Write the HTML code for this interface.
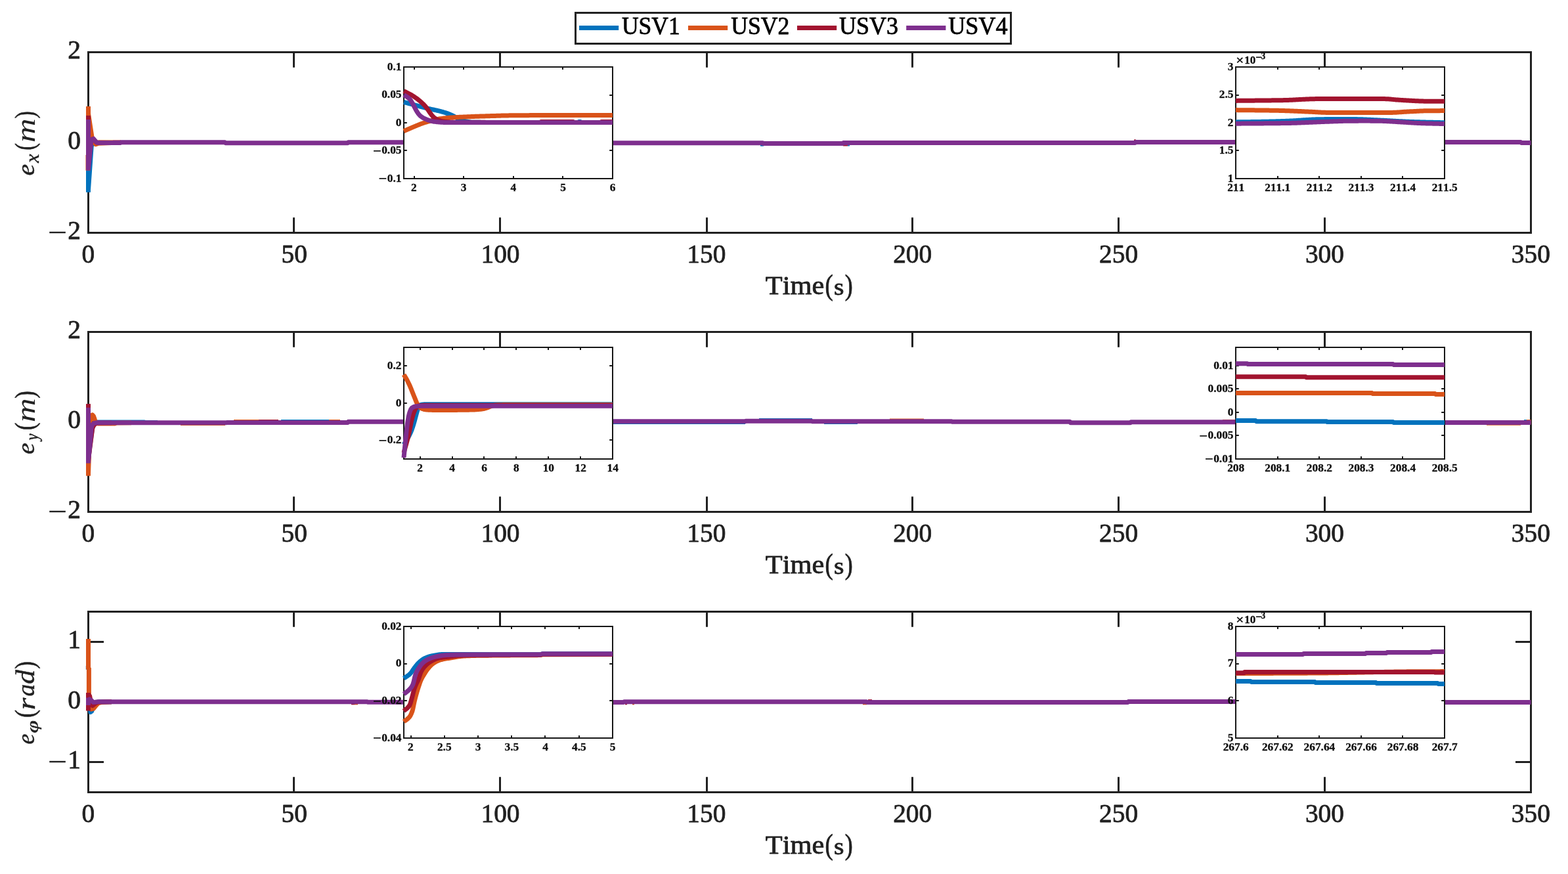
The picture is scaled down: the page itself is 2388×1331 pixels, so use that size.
<!DOCTYPE html>
<html lang="en"><head><meta charset="utf-8"><title>USV tracking errors</title>
<style>html,body{margin:0;padding:0;background:#fff}svg{display:block}text{font-family:"Liberation Serif","DejaVu Serif",serif;font-size:40px;text-anchor:start;font-kerning:none;font-variant-ligatures:none;white-space:pre}path{fill:none}</style></head><body>
<svg width="2388" height="1331" viewBox="0 0 2388 1331">
<rect width="2388" height="1331" fill="#fff"/>
<rect x="134.5" y="79.5" width="2197" height="275" fill="#fff" stroke="#212121" stroke-width="3"/>
<path d="M447.5,79.5V102.8M447.5,354.5V331.2M761.5,79.5V102.8M761.5,354.5V331.2M1076.5,79.5V102.8M1076.5,354.5V331.2M1389.5,79.5V102.8M1389.5,354.5V331.2M1703.5,79.5V102.8M1703.5,354.5V331.2M2017.5,79.5V102.8M2017.5,354.5V331.2M134.5,217H158M2331.5,217H2308" stroke="#212121" stroke-width="3" fill="none"/>
<g id="data1">
<path d="M134.5,217 L134.5,292.8" stroke="#0072BD" stroke-width="7" stroke-linejoin="round" stroke-linecap="butt"/>
<path d="M134.5,289 L139.3,221.5 L143.5,217.6 L150,217.6 L170,217.5" stroke="#0072BD" stroke-width="7" stroke-linejoin="round" stroke-linecap="butt"/>
<path d="M134.5,162 L134.5,259.3" stroke="#D95319" stroke-width="7" stroke-linejoin="round" stroke-linecap="butt"/>
<path d="M134,236 L134,259.5" stroke="#D95319" stroke-width="7" stroke-linejoin="round" stroke-linecap="butt"/>
<path d="M134.5,173 L139.8,207.5 L142.5,216 L145.8,219.8 L150,218.2 L170,217.5" stroke="#D95319" stroke-width="7" stroke-linejoin="round" stroke-linecap="butt"/>
<path d="M1158,219.2 L1163,219.2" stroke="#0072BD" stroke-width="7" stroke-linejoin="round" stroke-linecap="butt"/>
<path d="M1284,219 L1291,219" stroke="#A2142F" stroke-width="7" stroke-linejoin="round" stroke-linecap="butt"/>
<path d="M1291,219 L1294,219" stroke="#0072BD" stroke-width="7" stroke-linejoin="round" stroke-linecap="butt"/>
<path d="M1727,215.9 L1730,215.9" stroke="#A2142F" stroke-width="7" stroke-linejoin="round" stroke-linecap="butt"/>
<path d="M134.5,176 L134.5,252" stroke="#A2142F" stroke-width="7" stroke-linejoin="round" stroke-linecap="butt"/>
<path d="M134.5,250 L138.5,213 L142,211.5 L146.5,216.5 L150,217.3 L170,217.5" stroke="#A2142F" stroke-width="7" stroke-linejoin="round" stroke-linecap="butt"/>
<path d="M150,216.9 L172,216.9" stroke="#D95319" stroke-width="7" stroke-linejoin="round" stroke-linecap="butt"/>
<path d="M172,216.9 L184,216.9" stroke="#A2142F" stroke-width="7" stroke-linejoin="round" stroke-linecap="butt"/>
<path d="M134.5,182 L134.5,259.5" stroke="#7E2F8E" stroke-width="7" stroke-linejoin="round" stroke-linecap="butt"/>
<path d="M134.5,258 L138.7,216 L139.6,212.6 L142.3,211.4 L146.5,216.3 L149,217.5 L183.5,217.5 L184.5,216.8 L342.5,216.8 L343.5,217.7 L529.5,217.7 L530.5,216.7 L699.5,216.7 L700.5,217.3 L932.5,217.3 L933.5,217.7 L1161.5,217.7 L1162.5,218.6 L1283.5,218.6 L1284.5,217.6 L1728.5,217.6 L1729.5,216.5 L2316,216.5 L2317,217.4 L2331.5,217.4" stroke="#7E2F8E" stroke-width="7" stroke-linejoin="round" stroke-linecap="butt"/>
</g>
<text fill="#212121"><tspan x="124.45" y="399.6" font-size="40.4" textLength="19.7" lengthAdjust="spacingAndGlyphs" stroke="#212121" stroke-width="0.8" stroke-linejoin="round">0</tspan></text>
<text fill="#212121"><tspan x="428.46" y="399.6" font-size="40.4" textLength="39.4" lengthAdjust="spacingAndGlyphs" stroke="#212121" stroke-width="0.8" stroke-linejoin="round">50</tspan></text>
<text fill="#212121"><tspan x="732.46" y="399.6" font-size="40.4" textLength="59.1" lengthAdjust="spacingAndGlyphs" stroke="#212121" stroke-width="0.8" stroke-linejoin="round">100</tspan></text>
<text fill="#212121"><tspan x="1046.32" y="399.6" font-size="40.4" textLength="59.1" lengthAdjust="spacingAndGlyphs" stroke="#212121" stroke-width="0.8" stroke-linejoin="round">150</tspan></text>
<text fill="#212121"><tspan x="1360.18" y="399.6" font-size="40.4" textLength="59.1" lengthAdjust="spacingAndGlyphs" stroke="#212121" stroke-width="0.8" stroke-linejoin="round">200</tspan></text>
<text fill="#212121"><tspan x="1674.04" y="399.6" font-size="40.4" textLength="59.1" lengthAdjust="spacingAndGlyphs" stroke="#212121" stroke-width="0.8" stroke-linejoin="round">250</tspan></text>
<text fill="#212121"><tspan x="1987.89" y="399.6" font-size="40.4" textLength="59.1" lengthAdjust="spacingAndGlyphs" stroke="#212121" stroke-width="0.8" stroke-linejoin="round">300</tspan></text>
<text fill="#212121"><tspan x="2301.75" y="399.6" font-size="40.4" textLength="59.1" lengthAdjust="spacingAndGlyphs" stroke="#212121" stroke-width="0.8" stroke-linejoin="round">350</tspan></text>
<text fill="#212121"><tspan x="1165.83" y="448.42" font-size="39.1442" textLength="89.54" lengthAdjust="spacingAndGlyphs" stroke="#212121" stroke-width="0.8" stroke-linejoin="round">Time</tspan><tspan x="1256.49" y="449.08" font-size="43.7833" textLength="12.19" lengthAdjust="spacingAndGlyphs" stroke="#212121" stroke-width="0.8" stroke-linejoin="round">(</tspan><tspan x="1270.07" y="448.55" font-size="36.1779" textLength="15.47" lengthAdjust="spacingAndGlyphs" stroke="#212121" stroke-width="0.8" stroke-linejoin="round">s</tspan><tspan x="1286.85" y="449.08" font-size="43.7833" textLength="11.93" lengthAdjust="spacingAndGlyphs" stroke="#212121" stroke-width="0.8" stroke-linejoin="round">)</tspan></text>
<text fill="#212121"><tspan x="103.3" y="89.3" font-size="40" textLength="19.7" lengthAdjust="spacingAndGlyphs" stroke="#212121" stroke-width="0.8" stroke-linejoin="round">2</tspan></text>
<text fill="#212121"><tspan x="103.3" y="226.8" font-size="40" textLength="19.7" lengthAdjust="spacingAndGlyphs" stroke="#212121" stroke-width="0.8" stroke-linejoin="round">0</tspan></text>
<text fill="#212121"><tspan x="72.57" y="369.95" font-size="48.1882" textLength="29.81" lengthAdjust="spacingAndGlyphs">−</tspan><tspan x="103.3" y="364.3" font-size="40" textLength="19.7" lengthAdjust="spacingAndGlyphs" stroke="#212121" stroke-width="0.8" stroke-linejoin="round">2</tspan></text>
<text fill="#212121" transform="rotate(-90)"><tspan x="-267.61" y="52.01" font-size="37.3214" textLength="17.78" lengthAdjust="spacingAndGlyphs" font-style="italic" stroke="#212121" stroke-width="0.45" stroke-linejoin="round">e</tspan><tspan x="-247.9" y="58.68" font-size="28.6502" textLength="13.5" lengthAdjust="spacingAndGlyphs" font-style="italic" stroke="#212121" stroke-width="0.45" stroke-linejoin="round">x</tspan><tspan x="-228.64" y="52.29" font-size="42.7907" textLength="10.89" lengthAdjust="spacingAndGlyphs" stroke="#212121" stroke-width="0.6" stroke-linejoin="round">(</tspan><tspan x="-217.13" y="52.6" font-size="39.0499" textLength="36.55" lengthAdjust="spacingAndGlyphs" font-style="italic">m</tspan><tspan x="-180.27" y="52.29" font-size="42.7907" textLength="11.02" lengthAdjust="spacingAndGlyphs" stroke="#212121" stroke-width="0.6" stroke-linejoin="round">)</tspan></text>
<rect x="134.5" y="505.5" width="2197" height="274" fill="#fff" stroke="#212121" stroke-width="3"/>
<path d="M447.5,505.5V528.8M447.5,779.5V756.2M761.5,505.5V528.8M761.5,779.5V756.2M1076.5,505.5V528.8M1076.5,779.5V756.2M1389.5,505.5V528.8M1389.5,779.5V756.2M1703.5,505.5V528.8M1703.5,779.5V756.2M2017.5,505.5V528.8M2017.5,779.5V756.2M134.5,642.5H158M2331.5,642.5H2308" stroke="#212121" stroke-width="3" fill="none"/>
<g id="data2">
<path d="M134.5,642 L134.5,700" stroke="#0072BD" stroke-width="7" stroke-linejoin="round" stroke-linecap="butt"/>
<path d="M134.5,698 L140.6,652 L144.5,644 L148,643 L220,643 L222,643.6 L240,643.6" stroke="#0072BD" stroke-width="7" stroke-linejoin="round" stroke-linecap="butt"/>
<path d="M934,642.6 L1135,642.6" stroke="#0072BD" stroke-width="7" stroke-linejoin="round" stroke-linecap="butt"/>
<path d="M1156,640.4 L1237,640.4" stroke="#0072BD" stroke-width="7" stroke-linejoin="round" stroke-linecap="butt"/>
<path d="M1255,642.6 L1306,642.6" stroke="#0072BD" stroke-width="7" stroke-linejoin="round" stroke-linecap="butt"/>
<path d="M1355,641 L1407,641" stroke="#D95319" stroke-width="7" stroke-linejoin="round" stroke-linecap="butt"/>
<path d="M356,642.5 L394,642.5" stroke="#D95319" stroke-width="7" stroke-linejoin="round" stroke-linecap="butt"/>
<path d="M394,642.5 L424,642.5" stroke="#A2142F" stroke-width="7" stroke-linejoin="round" stroke-linecap="butt"/>
<path d="M428,642.5 L501,642.5" stroke="#0072BD" stroke-width="7" stroke-linejoin="round" stroke-linecap="butt"/>
<path d="M501,642.5 L518,642.5" stroke="#D95319" stroke-width="7" stroke-linejoin="round" stroke-linecap="butt"/>
<path d="M1862,642.4 L1882,642.4" stroke="#D95319" stroke-width="7" stroke-linejoin="round" stroke-linecap="butt"/>
<path d="M2264,644.3 L2316,644.3" stroke="#D95319" stroke-width="7" stroke-linejoin="round" stroke-linecap="butt"/>
<path d="M2321,642.6 L2325,642.6" stroke="#0072BD" stroke-width="7" stroke-linejoin="round" stroke-linecap="butt"/>
<path d="M2325,642.6 L2331.5,642.6" stroke="#D95319" stroke-width="7" stroke-linejoin="round" stroke-linecap="butt"/>
<path d="M933,642.3 L960,642.3" stroke="#0072BD" stroke-width="7" stroke-linejoin="round" stroke-linecap="butt"/>
<path d="M134.5,630 L134.5,724.7" stroke="#D95319" stroke-width="7" stroke-linejoin="round" stroke-linecap="butt"/>
<path d="M134.5,721 L137.4,640 L138.8,633 L140.6,631.8 L142.4,633.6 L143.8,637.5 L145.2,642 L147,644.6 L150,645 L175,645 L178,644 L200,643.8" stroke="#D95319" stroke-width="7" stroke-linejoin="round" stroke-linecap="butt"/>
<path d="M275,644.6 L343,644.6" stroke="#D95319" stroke-width="7" stroke-linejoin="round" stroke-linecap="butt"/>
<path d="M134.5,615.1 L134.5,702" stroke="#A2142F" stroke-width="7" stroke-linejoin="round" stroke-linecap="butt"/>
<path d="M134.5,700 L140.8,652 L142.8,647.8 L145.5,645.2 L149,643.9 L170,643.8" stroke="#A2142F" stroke-width="7" stroke-linejoin="round" stroke-linecap="butt"/>
<path d="M134.5,620.8 L134.5,705.5" stroke="#7E2F8E" stroke-width="7" stroke-linejoin="round" stroke-linecap="butt"/>
<path d="M134.5,703 L139.3,651 L140.6,646.8 L143,644.6 L147,643.8 L344.5,643.8 L345.5,643.4 L529.5,643.4 L530.5,642.2 L699.5,642.2 L700.5,641.8 L1134.5,641.8 L1135.5,641.3 L1236.5,641.3 L1237.5,641.8 L1449.5,641.8 L1450.5,642.3 L1629.5,642.3 L1630.5,643.8 L1721.5,643.8 L1722.5,642.7 L1881.5,642.7 L1882.5,643.2 L2199.5,643.2 L2200.5,643.4 L2331.5,643.4" stroke="#7E2F8E" stroke-width="7" stroke-linejoin="round" stroke-linecap="butt"/>
</g>
<text fill="#212121"><tspan x="124.45" y="824.6" font-size="40.4" textLength="19.7" lengthAdjust="spacingAndGlyphs" stroke="#212121" stroke-width="0.8" stroke-linejoin="round">0</tspan></text>
<text fill="#212121"><tspan x="428.46" y="824.6" font-size="40.4" textLength="39.4" lengthAdjust="spacingAndGlyphs" stroke="#212121" stroke-width="0.8" stroke-linejoin="round">50</tspan></text>
<text fill="#212121"><tspan x="732.46" y="824.6" font-size="40.4" textLength="59.1" lengthAdjust="spacingAndGlyphs" stroke="#212121" stroke-width="0.8" stroke-linejoin="round">100</tspan></text>
<text fill="#212121"><tspan x="1046.32" y="824.6" font-size="40.4" textLength="59.1" lengthAdjust="spacingAndGlyphs" stroke="#212121" stroke-width="0.8" stroke-linejoin="round">150</tspan></text>
<text fill="#212121"><tspan x="1360.18" y="824.6" font-size="40.4" textLength="59.1" lengthAdjust="spacingAndGlyphs" stroke="#212121" stroke-width="0.8" stroke-linejoin="round">200</tspan></text>
<text fill="#212121"><tspan x="1674.04" y="824.6" font-size="40.4" textLength="59.1" lengthAdjust="spacingAndGlyphs" stroke="#212121" stroke-width="0.8" stroke-linejoin="round">250</tspan></text>
<text fill="#212121"><tspan x="1987.89" y="824.6" font-size="40.4" textLength="59.1" lengthAdjust="spacingAndGlyphs" stroke="#212121" stroke-width="0.8" stroke-linejoin="round">300</tspan></text>
<text fill="#212121"><tspan x="2301.75" y="824.6" font-size="40.4" textLength="59.1" lengthAdjust="spacingAndGlyphs" stroke="#212121" stroke-width="0.8" stroke-linejoin="round">350</tspan></text>
<text fill="#212121"><tspan x="1165.83" y="873.42" font-size="39.1442" textLength="89.54" lengthAdjust="spacingAndGlyphs" stroke="#212121" stroke-width="0.8" stroke-linejoin="round">Time</tspan><tspan x="1256.49" y="874.08" font-size="43.7833" textLength="12.19" lengthAdjust="spacingAndGlyphs" stroke="#212121" stroke-width="0.8" stroke-linejoin="round">(</tspan><tspan x="1270.07" y="873.55" font-size="36.1779" textLength="15.47" lengthAdjust="spacingAndGlyphs" stroke="#212121" stroke-width="0.8" stroke-linejoin="round">s</tspan><tspan x="1286.85" y="874.08" font-size="43.7833" textLength="11.93" lengthAdjust="spacingAndGlyphs" stroke="#212121" stroke-width="0.8" stroke-linejoin="round">)</tspan></text>
<text fill="#212121"><tspan x="103.3" y="515.3" font-size="40" textLength="19.7" lengthAdjust="spacingAndGlyphs" stroke="#212121" stroke-width="0.8" stroke-linejoin="round">2</tspan></text>
<text fill="#212121"><tspan x="103.3" y="652.3" font-size="40" textLength="19.7" lengthAdjust="spacingAndGlyphs" stroke="#212121" stroke-width="0.8" stroke-linejoin="round">0</tspan></text>
<text fill="#212121"><tspan x="72.57" y="794.95" font-size="48.1882" textLength="29.81" lengthAdjust="spacingAndGlyphs">−</tspan><tspan x="103.3" y="789.3" font-size="40" textLength="19.7" lengthAdjust="spacingAndGlyphs" stroke="#212121" stroke-width="0.8" stroke-linejoin="round">2</tspan></text>
<text fill="#212121" transform="rotate(-90)"><tspan x="-691.67" y="52.01" font-size="37.3214" textLength="17.27" lengthAdjust="spacingAndGlyphs" font-style="italic" stroke="#212121" stroke-width="0.45" stroke-linejoin="round">e</tspan><tspan x="-670.48" y="57.8" font-size="26.7485" textLength="10.05" lengthAdjust="spacingAndGlyphs" font-style="italic" stroke="#212121" stroke-width="0.45" stroke-linejoin="round">y</tspan><tspan x="-654.89" y="52.29" font-size="42.7907" textLength="11.28" lengthAdjust="spacingAndGlyphs" stroke="#212121" stroke-width="0.6" stroke-linejoin="round">(</tspan><tspan x="-643.03" y="52.6" font-size="39.0499" textLength="36.55" lengthAdjust="spacingAndGlyphs" font-style="italic">m</tspan><tspan x="-606.39" y="52.29" font-size="42.7907" textLength="11.28" lengthAdjust="spacingAndGlyphs" stroke="#212121" stroke-width="0.6" stroke-linejoin="round">)</tspan></text>
<rect x="134.5" y="931.5" width="2197" height="275" fill="#fff" stroke="#212121" stroke-width="3"/>
<path d="M447.5,931.5V954.8M447.5,1206.5V1183.2M761.5,931.5V954.8M761.5,1206.5V1183.2M1076.5,931.5V954.8M1076.5,1206.5V1183.2M1389.5,931.5V954.8M1389.5,1206.5V1183.2M1703.5,931.5V954.8M1703.5,1206.5V1183.2M2017.5,931.5V954.8M2017.5,1206.5V1183.2M134.5,977.5H158M2331.5,977.5H2308M134.5,1069H158M2331.5,1069H2308M134.5,1160.5H158M2331.5,1160.5H2308" stroke="#212121" stroke-width="3" fill="none"/>
<g id="data3">
<path d="M134.3,1014 L134.3,1019.6" stroke="#0072BD" stroke-width="7" stroke-linejoin="round" stroke-linecap="butt"/>
<path d="M137.4,1078 L137.8,1084.4 L139.6,1083.2 L143,1075 L147,1069.5 L152,1068.9 L170,1068.8" stroke="#0072BD" stroke-width="7" stroke-linejoin="round" stroke-linecap="butt"/>
<path d="M134.5,973 L134.5,1017.5 L135.4,1018.5 L135.4,1078" stroke="#D95319" stroke-width="7" stroke-linejoin="miter" stroke-linecap="butt"/>
<path d="M135.4,1075 L138.5,1080 L142.5,1079 L147,1073.5 L150,1070.5 L155,1069.3 L170,1068.8" stroke="#D95319" stroke-width="7" stroke-linejoin="round" stroke-linecap="butt"/>
<path d="M952,1069.8 L955,1069.8" stroke="#A2142F" stroke-width="7" stroke-linejoin="round" stroke-linecap="butt"/>
<path d="M963,1069.8 L966,1069.8" stroke="#D95319" stroke-width="7" stroke-linejoin="round" stroke-linecap="butt"/>
<path d="M1314,1069.8 L1320,1069.8" stroke="#D95319" stroke-width="7" stroke-linejoin="round" stroke-linecap="butt"/>
<path d="M1322,1068.6 L1328,1068.6" stroke="#A2142F" stroke-width="7" stroke-linejoin="round" stroke-linecap="butt"/>
<path d="M535,1069.8 L540,1069.8" stroke="#A2142F" stroke-width="7" stroke-linejoin="round" stroke-linecap="butt"/>
<path d="M540,1069.8 L545,1069.8" stroke="#D95319" stroke-width="7" stroke-linejoin="round" stroke-linecap="butt"/>
<path d="M134.5,1055 L134.5,1082.5" stroke="#A2142F" stroke-width="7" stroke-linejoin="round" stroke-linecap="butt"/>
<path d="M134.5,1060 L136.6,1060 L138.6,1070 L141,1074.5 L145,1071.5 L149,1069.2 L170,1068.8" stroke="#A2142F" stroke-width="7" stroke-linejoin="round" stroke-linecap="butt"/>
<path d="M134.5,1068.5 L136.5,1065 L139,1066.5 L142,1069.5 L145,1069.3 L149,1068.8 L559.5,1068.8 L560.5,1069.3 L699.5,1069.3 L700.5,1069.6 L949.5,1069.6 L950.5,1068.8 L1319.5,1068.8 L1320.5,1069.6 L1717.5,1069.6 L1718.5,1068.6 L1881.5,1068.6 L1882.5,1068.8 L2199.5,1068.8 L2200.5,1069.4 L2331.5,1069.4" stroke="#7E2F8E" stroke-width="7" stroke-linejoin="round" stroke-linecap="butt"/>
<path d="M134.5,1062.5 L134.5,1074" stroke="#7E2F8E" stroke-width="7" stroke-linejoin="round" stroke-linecap="butt"/>
</g>
<text fill="#212121"><tspan x="124.45" y="1251.6" font-size="40.4" textLength="19.7" lengthAdjust="spacingAndGlyphs" stroke="#212121" stroke-width="0.8" stroke-linejoin="round">0</tspan></text>
<text fill="#212121"><tspan x="428.46" y="1251.6" font-size="40.4" textLength="39.4" lengthAdjust="spacingAndGlyphs" stroke="#212121" stroke-width="0.8" stroke-linejoin="round">50</tspan></text>
<text fill="#212121"><tspan x="732.46" y="1251.6" font-size="40.4" textLength="59.1" lengthAdjust="spacingAndGlyphs" stroke="#212121" stroke-width="0.8" stroke-linejoin="round">100</tspan></text>
<text fill="#212121"><tspan x="1046.32" y="1251.6" font-size="40.4" textLength="59.1" lengthAdjust="spacingAndGlyphs" stroke="#212121" stroke-width="0.8" stroke-linejoin="round">150</tspan></text>
<text fill="#212121"><tspan x="1360.18" y="1251.6" font-size="40.4" textLength="59.1" lengthAdjust="spacingAndGlyphs" stroke="#212121" stroke-width="0.8" stroke-linejoin="round">200</tspan></text>
<text fill="#212121"><tspan x="1674.04" y="1251.6" font-size="40.4" textLength="59.1" lengthAdjust="spacingAndGlyphs" stroke="#212121" stroke-width="0.8" stroke-linejoin="round">250</tspan></text>
<text fill="#212121"><tspan x="1987.89" y="1251.6" font-size="40.4" textLength="59.1" lengthAdjust="spacingAndGlyphs" stroke="#212121" stroke-width="0.8" stroke-linejoin="round">300</tspan></text>
<text fill="#212121"><tspan x="2301.75" y="1251.6" font-size="40.4" textLength="59.1" lengthAdjust="spacingAndGlyphs" stroke="#212121" stroke-width="0.8" stroke-linejoin="round">350</tspan></text>
<text fill="#212121"><tspan x="1165.83" y="1300.42" font-size="39.1442" textLength="89.54" lengthAdjust="spacingAndGlyphs" stroke="#212121" stroke-width="0.8" stroke-linejoin="round">Time</tspan><tspan x="1256.49" y="1301.08" font-size="43.7833" textLength="12.19" lengthAdjust="spacingAndGlyphs" stroke="#212121" stroke-width="0.8" stroke-linejoin="round">(</tspan><tspan x="1270.07" y="1300.55" font-size="36.1779" textLength="15.47" lengthAdjust="spacingAndGlyphs" stroke="#212121" stroke-width="0.8" stroke-linejoin="round">s</tspan><tspan x="1286.85" y="1301.08" font-size="43.7833" textLength="11.93" lengthAdjust="spacingAndGlyphs" stroke="#212121" stroke-width="0.8" stroke-linejoin="round">)</tspan></text>
<text fill="#212121"><tspan x="103.3" y="987.3" font-size="40" textLength="19.7" lengthAdjust="spacingAndGlyphs" stroke="#212121" stroke-width="0.8" stroke-linejoin="round">1</tspan></text>
<text fill="#212121"><tspan x="103.3" y="1078.8" font-size="40" textLength="19.7" lengthAdjust="spacingAndGlyphs" stroke="#212121" stroke-width="0.8" stroke-linejoin="round">0</tspan></text>
<text fill="#212121"><tspan x="72.57" y="1176.05" font-size="48.1882" textLength="29.81" lengthAdjust="spacingAndGlyphs">−</tspan><tspan x="103.3" y="1170.4" font-size="40" textLength="19.7" lengthAdjust="spacingAndGlyphs" stroke="#212121" stroke-width="0.8" stroke-linejoin="round">1</tspan></text>
<text fill="#212121" transform="rotate(-90)"><tspan x="-1133.6" y="52.21" font-size="37.5293" textLength="16.19" lengthAdjust="spacingAndGlyphs" font-style="italic" stroke="#212121" stroke-width="0.45" stroke-linejoin="round">e</tspan><tspan x="-1116.62" y="57.82" font-size="25.6365" textLength="19.35" lengthAdjust="spacingAndGlyphs" font-style="italic" stroke="#212121" stroke-width="0.45" stroke-linejoin="round">φ</tspan><tspan x="-1092.99" y="52.31" font-size="42.6805" textLength="12.06" lengthAdjust="spacingAndGlyphs" stroke="#212121" stroke-width="0.6" stroke-linejoin="round">(</tspan><tspan x="-1081.32" y="52.58" font-size="38.3072" textLength="18.65" lengthAdjust="spacingAndGlyphs" font-style="italic" stroke="#212121" stroke-width="0.45" stroke-linejoin="round">r</tspan><tspan x="-1060.49" y="52.19" font-size="37.5293" textLength="18.78" lengthAdjust="spacingAndGlyphs" font-style="italic" stroke="#212121" stroke-width="0.45" stroke-linejoin="round">a</tspan><tspan x="-1041.79" y="52.17" font-size="39.554" textLength="21.76" lengthAdjust="spacingAndGlyphs" font-style="italic" stroke="#212121" stroke-width="0.45" stroke-linejoin="round">d</tspan><tspan x="-1018.4" y="52.31" font-size="42.6805" textLength="11.41" lengthAdjust="spacingAndGlyphs" stroke="#212121" stroke-width="0.6" stroke-linejoin="round">)</tspan></text>
<rect x="876.5" y="19.5" width="663" height="47" fill="#fff" stroke="#212121" stroke-width="3"/>
<path d="M882,42.6 L942.2,42.6" stroke="#0072BD" stroke-width="7" stroke-linejoin="round" stroke-linecap="butt"/>
<text fill="#000"><tspan x="946.95" y="51.94" font-size="37.2095" textLength="88.88" lengthAdjust="spacingAndGlyphs" stroke="#000" stroke-width="0.8" stroke-linejoin="round">USV1</tspan></text>
<path d="M1048,42.6 L1108.2,42.6" stroke="#D95319" stroke-width="7" stroke-linejoin="round" stroke-linecap="butt"/>
<text fill="#000"><tspan x="1113.25" y="51.94" font-size="37.2095" textLength="89.01" lengthAdjust="spacingAndGlyphs" stroke="#000" stroke-width="0.8" stroke-linejoin="round">USV2</tspan></text>
<path d="M1214,42.6 L1274.2,42.6" stroke="#A2142F" stroke-width="7" stroke-linejoin="round" stroke-linecap="butt"/>
<text fill="#000"><tspan x="1278.04" y="51.94" font-size="37.2095" textLength="89.96" lengthAdjust="spacingAndGlyphs" stroke="#000" stroke-width="0.8" stroke-linejoin="round">USV3</tspan></text>
<path d="M1380.2,42.6 L1440.4,42.6" stroke="#7E2F8E" stroke-width="7" stroke-linejoin="round" stroke-linecap="butt"/>
<text fill="#000"><tspan x="1444.14" y="51.94" font-size="37.2095" textLength="90.42" lengthAdjust="spacingAndGlyphs" stroke="#000" stroke-width="0.8" stroke-linejoin="round">USV4</tspan></text>
<rect x="615" y="102" width="318" height="170" fill="#fff" stroke="#171717" stroke-width="2"/>
<path d="M631,102V106M631,272V268M706,102V106M706,272V268M782,102V106M782,272V268M857,102V106M857,272V268M615,145H619.8M933,145H928.2M615,187H619.8M933,187H928.2M615,229H619.8M933,229H928.2" stroke="#171717" stroke-width="2" fill="none"/>
<g id="in1">
<path d="M615,155.5 L616.5,155.9 L618,156.3 L619.5,156.7 L621,157.1 L622.5,157.5 L624,157.9 L625.5,158.3 L627,158.7 L628.5,159.1 L630,159.5 L631.47,159.89 L632.95,160.29 L634.42,160.68 L635.89,161.08 L637.37,161.48 L638.84,161.87 L640.31,162.27 L641.79,162.66 L643.26,163.05 L644.73,163.44 L646.21,163.82 L647.68,164.2 L649.15,164.58 L650.63,164.94 L652.1,165.3 L653.59,165.65 L655.08,165.99 L656.58,166.31 L658.07,166.63 L659.56,166.95 L661.05,167.26 L662.54,167.57 L664.03,167.89 L665.52,168.22 L667.02,168.57 L668.51,168.92 L670,169.3 L671.38,169.66 L672.75,170.03 L674.12,170.42 L675.5,170.82 L676.88,171.24 L678.25,171.67 L679.62,172.13 L681,172.6 L682.5,173.15 L684,173.73 L685.5,174.35 L687,175.01 L688.5,175.69 L690,176.4 L691.4,177.13 L692.8,177.94 L694.2,178.77 L695.6,179.58 L697,180.3 L698.33,180.93 L699.67,181.54 L701,182.12 L702.33,182.67 L703.67,183.16 L705,183.6 L706.4,184.01 L707.8,184.4 L709.2,184.75 L710.6,185.05 L712,185.3 L713.33,185.51 L714.67,185.7 L716,185.88 L717.33,186.03 L718.67,186.14 L720,186.2 L721.43,186.23 L722.86,186.25 L724.29,186.28 L725.71,186.3 L727.14,186.32 L728.57,186.34 L730,186.35 L731.43,186.37 L732.86,186.38 L734.29,186.38 L735.71,186.39 L737.14,186.4 L738.57,186.4 L740,186.4 L741.43,186.4 L742.86,186.4 L744.29,186.4 L745.71,186.4 L747.14,186.4 L748.57,186.4 L750,186.4 L751.43,186.4 L752.86,186.4 L754.29,186.4 L755.71,186.4 L757.14,186.4 L758.57,186.4 L760,186.4 L881,186.4 L881.5,185.6 L884,185.6 L884.5,186.4 L933,186.4" stroke="#0072BD" stroke-width="7" stroke-linejoin="round" stroke-linecap="butt"/>
<path d="M615,199.7 L616.44,199.06 L617.89,198.42 L619.33,197.78 L620.78,197.14 L622.22,196.5 L623.67,195.86 L625.11,195.23 L626.56,194.61 L628,194 L629.5,193.37 L631,192.74 L632.5,192.11 L634,191.48 L635.5,190.86 L637,190.26 L638.5,189.66 L640,189.09 L641.5,188.53 L643,188 L644.44,187.5 L645.89,187.02 L647.33,186.54 L648.78,186.08 L650.22,185.63 L651.67,185.2 L653.11,184.78 L654.56,184.38 L656,184 L657.45,183.63 L658.9,183.25 L660.35,182.89 L661.8,182.53 L663.25,182.19 L664.7,181.86 L666.15,181.56 L667.6,181.28 L669.05,181.02 L670.5,180.8 L671.96,180.6 L673.42,180.41 L674.88,180.23 L676.33,180.05 L677.79,179.89 L679.25,179.74 L680.71,179.6 L682.17,179.46 L683.62,179.33 L685.08,179.22 L686.54,179.1 L688,179 L689.49,178.9 L690.98,178.81 L692.48,178.72 L693.97,178.63 L695.46,178.55 L696.95,178.47 L698.45,178.4 L699.94,178.33 L701.43,178.26 L702.92,178.19 L704.42,178.13 L705.91,178.06 L707.4,178 L708.88,177.94 L710.35,177.88 L711.83,177.82 L713.3,177.76 L714.78,177.7 L716.26,177.64 L717.73,177.58 L719.21,177.53 L720.68,177.47 L722.16,177.42 L723.64,177.37 L725.11,177.31 L726.59,177.26 L728.06,177.21 L729.54,177.16 L731.02,177.11 L732.49,177.06 L733.97,177.02 L735.44,176.97 L736.92,176.92 L738.4,176.88 L739.87,176.83 L741.35,176.79 L742.82,176.74 L744.3,176.7 L745.79,176.66 L747.27,176.61 L748.76,176.56 L750.25,176.52 L751.74,176.47 L753.22,176.43 L754.71,176.38 L756.2,176.33 L757.69,176.29 L759.17,176.24 L760.66,176.2 L762.15,176.15 L763.64,176.11 L765.12,176.07 L766.61,176.03 L768.1,176 L769.59,175.96 L771.08,175.93 L772.56,175.9 L774.05,175.88 L775.54,175.85 L777.02,175.83 L778.51,175.81 L780,175.8 L781.49,175.79 L782.98,175.78 L784.47,175.77 L785.96,175.75 L787.45,175.74 L788.94,175.73 L790.43,175.72 L791.91,175.71 L793.4,175.7 L794.89,175.69 L796.38,175.68 L797.87,175.67 L799.36,175.66 L800.85,175.65 L802.34,175.65 L803.83,175.64 L805.32,175.63 L806.81,175.62 L808.3,175.61 L809.79,175.61 L811.28,175.6 L812.77,175.59 L814.26,175.58 L815.74,175.58 L817.23,175.57 L818.72,175.56 L820.21,175.56 L821.7,175.55 L823.19,175.55 L824.68,175.54 L826.17,175.54 L827.66,175.53 L829.15,175.53 L830.64,175.53 L832.13,175.52 L833.62,175.52 L835.11,175.52 L836.6,175.51 L838.09,175.51 L839.57,175.51 L841.06,175.51 L842.55,175.5 L844.04,175.5 L845.53,175.5 L847.02,175.5 L848.51,175.5 L850,175.5 L851.48,175.5 L852.96,175.5 L854.45,175.5 L855.93,175.5 L857.41,175.5 L858.89,175.5 L860.38,175.5 L861.86,175.5 L863.34,175.5 L864.82,175.5 L866.3,175.5 L867.79,175.5 L869.27,175.5 L870.75,175.5 L872.23,175.5 L873.71,175.5 L875.2,175.5 L876.68,175.5 L878.16,175.5 L879.64,175.5 L881.12,175.5 L882.61,175.5 L884.09,175.5 L885.57,175.5 L887.05,175.5 L888.54,175.5 L890.02,175.5 L891.5,175.5 L892.98,175.5 L894.46,175.5 L895.95,175.5 L897.43,175.5 L898.91,175.5 L900.39,175.5 L901.88,175.5 L903.36,175.5 L904.84,175.5 L906.32,175.5 L907.8,175.5 L909.29,175.5 L910.77,175.5 L912.25,175.5 L913.73,175.5 L915.21,175.5 L916.7,175.5 L918.18,175.5 L919.66,175.5 L921.14,175.5 L922.62,175.5 L924.11,175.5 L925.59,175.5 L927.07,175.5 L928.55,175.5 L930.04,175.5 L931.52,175.5 L933,175.5" stroke="#D95319" stroke-width="7" stroke-linejoin="round" stroke-linecap="butt"/>
<path d="M615,138.6 L616.43,139.33 L617.86,140.06 L619.29,140.77 L620.71,141.5 L622.14,142.24 L623.57,143 L625,143.8 L626.45,144.64 L627.9,145.5 L629.35,146.4 L630.8,147.32 L632.25,148.29 L633.7,149.3 L635.16,150.37 L636.62,151.51 L638.08,152.69 L639.54,153.93 L641,155.2 L642.3,156.35 L643.6,157.54 L644.9,158.77 L646.2,160.09 L647.5,161.5 L649,163.35 L650.5,165.4 L652,167.5 L653.17,169.18 L654.35,170.93 L655.53,172.63 L656.7,174.2 L658.13,175.98 L659.57,177.63 L661,179 L662.25,179.97 L663.5,180.83 L664.75,181.57 L666,182.2 L667.5,182.85 L669,183.42 L670.5,183.91 L672,184.3 L673.3,184.59 L674.6,184.87 L675.9,185.11 L677.2,185.32 L678.5,185.49 L679.8,185.6 L681.24,185.69 L682.69,185.77 L684.13,185.85 L685.57,185.92 L687.01,185.99 L688.46,186.05 L689.9,186.1 L691.34,186.15 L692.79,186.19 L694.23,186.23 L695.67,186.25 L697.11,186.28 L698.56,186.29 L700,186.3 L701.5,186.31 L703,186.31 L704.5,186.32 L706,186.32 L707.5,186.32 L709,186.33 L710.5,186.33 L712,186.34 L713.5,186.34 L715,186.34 L716.5,186.35 L718,186.35 L719.5,186.35 L721,186.35 L722.5,186.36 L724,186.36 L725.5,186.36 L727,186.36 L728.5,186.36 L730,186.37 L731.5,186.37 L733,186.37 L734.5,186.37 L736,186.37 L737.5,186.37 L739,186.37 L740.5,186.38 L742,186.38 L743.5,186.38 L745,186.38 L746.5,186.38 L748,186.38 L749.5,186.39 L751,186.39 L752.5,186.39 L754,186.39 L755.5,186.39 L757,186.4 L758.5,186.4 L760,186.4 L823,186.4 L824,185.6 L873,185.6 L874,186.4 L915,186.4 L916,185.6 L933,185.6" stroke="#A2142F" stroke-width="7" stroke-linejoin="round" stroke-linecap="butt"/>
<path d="M615,144.6 L616.25,145.32 L617.5,146.03 L618.75,146.77 L620,147.6 L621.5,148.71 L623,149.97 L624.5,151.5 L625.67,153.07 L626.83,154.98 L628,157 L629.3,159.38 L630.6,161.91 L631.9,164.4 L632.93,166.34 L633.97,168.25 L635,170 L636.1,171.7 L637.2,173.26 L638.3,174.6 L639.7,176.03 L641.1,177.26 L642.5,178.3 L643.75,179.09 L645,179.79 L646.25,180.42 L647.5,181 L648.8,181.58 L650.1,182.12 L651.4,182.63 L652.7,183.09 L654,183.5 L655.46,183.92 L656.92,184.32 L658.38,184.68 L659.84,184.98 L661.3,185.2 L662.74,185.36 L664.18,185.52 L665.62,185.67 L667.05,185.81 L668.49,185.95 L669.93,186.07 L671.37,186.17 L672.81,186.27 L674.25,186.35 L675.68,186.41 L677.12,186.46 L678.56,186.49 L680,186.5 L681.43,186.5 L682.86,186.5 L684.29,186.5 L685.71,186.5 L687.14,186.5 L688.57,186.5 L690,186.5 L691.43,186.5 L692.86,186.5 L694.29,186.5 L695.71,186.5 L697.14,186.5 L698.57,186.5 L700,186.5 L933,186.5" stroke="#7E2F8E" stroke-width="7" stroke-linejoin="round" stroke-linecap="butt"/>
</g>
<text fill="#0e0e0e"><tspan x="626.01" y="290.7" font-size="17.17" textLength="8.67" lengthAdjust="spacingAndGlyphs" font-weight="bold" stroke="#0e0e0e" stroke-width="0.3" stroke-linejoin="round">2</tspan></text>
<text fill="#0e0e0e"><tspan x="701.72" y="290.7" font-size="17.17" textLength="8.67" lengthAdjust="spacingAndGlyphs" font-weight="bold" stroke="#0e0e0e" stroke-width="0.3" stroke-linejoin="round">3</tspan></text>
<text fill="#0e0e0e"><tspan x="777.44" y="290.7" font-size="17.17" textLength="8.67" lengthAdjust="spacingAndGlyphs" font-weight="bold" stroke="#0e0e0e" stroke-width="0.3" stroke-linejoin="round">4</tspan></text>
<text fill="#0e0e0e"><tspan x="853.15" y="290.7" font-size="17.17" textLength="8.67" lengthAdjust="spacingAndGlyphs" font-weight="bold" stroke="#0e0e0e" stroke-width="0.3" stroke-linejoin="round">5</tspan></text>
<text fill="#0e0e0e"><tspan x="928.87" y="290.7" font-size="17.17" textLength="8.67" lengthAdjust="spacingAndGlyphs" font-weight="bold" stroke="#0e0e0e" stroke-width="0.3" stroke-linejoin="round">6</tspan></text>
<text fill="#0e0e0e"><tspan x="589.83" y="106.5" font-size="17.17" textLength="21.68" lengthAdjust="spacingAndGlyphs" font-weight="bold" stroke="#0e0e0e" stroke-width="0.3" stroke-linejoin="round">0.1</tspan></text>
<text fill="#0e0e0e"><tspan x="581.15" y="149" font-size="17.17" textLength="30.34" lengthAdjust="spacingAndGlyphs" font-weight="bold" stroke="#0e0e0e" stroke-width="0.3" stroke-linejoin="round">0.05</tspan></text>
<text fill="#0e0e0e"><tspan x="602.83" y="191.5" font-size="17.17" textLength="8.67" lengthAdjust="spacingAndGlyphs" font-weight="bold" stroke="#0e0e0e" stroke-width="0.3" stroke-linejoin="round">0</tspan></text>
<text fill="#0e0e0e"><tspan x="567.93" y="237.73" font-size="24.3469" textLength="13.24" lengthAdjust="spacingAndGlyphs" font-weight="bold">−</tspan><tspan x="581.15" y="234" font-size="17.17" textLength="30.34" lengthAdjust="spacingAndGlyphs" font-weight="bold" stroke="#0e0e0e" stroke-width="0.3" stroke-linejoin="round">0.05</tspan></text>
<text fill="#0e0e0e"><tspan x="576.6" y="280.23" font-size="24.3469" textLength="13.24" lengthAdjust="spacingAndGlyphs" font-weight="bold">−</tspan><tspan x="589.83" y="276.5" font-size="17.17" textLength="21.68" lengthAdjust="spacingAndGlyphs" font-weight="bold" stroke="#0e0e0e" stroke-width="0.3" stroke-linejoin="round">0.1</tspan></text>
<rect x="1882" y="102" width="318" height="170" fill="#fff" stroke="#171717" stroke-width="2"/>
<path d="M1946,102V106M1946,272V268M2009,102V106M2009,272V268M2073,102V106M2073,272V268M2136,102V106M2136,272V268M1882,145H1886.8M2200,145H2195.2M1882,187H1886.8M2200,187H2195.2M1882,229H1886.8M2200,229H2195.2" stroke="#171717" stroke-width="2" fill="none"/>
<g id="in2">
<path d="M1882,185.9 L1883.46,185.88 L1884.92,185.86 L1886.38,185.84 L1887.85,185.83 L1889.31,185.81 L1890.77,185.79 L1892.23,185.77 L1893.69,185.76 L1895.15,185.74 L1896.62,185.72 L1898.08,185.71 L1899.54,185.69 L1901,185.67 L1902.46,185.65 L1903.92,185.64 L1905.38,185.62 L1906.85,185.6 L1908.31,185.58 L1909.77,185.56 L1911.23,185.54 L1912.69,185.52 L1914.15,185.5 L1915.62,185.47 L1917.08,185.45 L1918.54,185.43 L1920,185.4 L1921.48,185.37 L1922.96,185.34 L1924.44,185.32 L1925.93,185.29 L1927.41,185.25 L1928.89,185.22 L1930.37,185.19 L1931.85,185.15 L1933.33,185.12 L1934.81,185.08 L1936.3,185.04 L1937.78,185 L1939.26,184.96 L1940.74,184.92 L1942.22,184.88 L1943.7,184.83 L1945.19,184.79 L1946.67,184.74 L1948.15,184.7 L1949.63,184.65 L1951.11,184.6 L1952.59,184.55 L1954.07,184.5 L1955.56,184.45 L1957.04,184.4 L1958.52,184.35 L1960,184.3 L1961.47,184.24 L1962.94,184.18 L1964.41,184.12 L1965.88,184.04 L1967.35,183.97 L1968.82,183.89 L1970.29,183.8 L1971.76,183.71 L1973.24,183.62 L1974.71,183.53 L1976.18,183.44 L1977.65,183.34 L1979.12,183.24 L1980.59,183.14 L1982.06,183.04 L1983.53,182.95 L1985,182.85 L1986.47,182.75 L1987.94,182.65 L1989.41,182.56 L1990.88,182.47 L1992.35,182.38 L1993.82,182.3 L1995.29,182.22 L1996.76,182.14 L1998.24,182.07 L1999.71,182 L2001.18,181.94 L2002.65,181.88 L2004.12,181.83 L2005.59,181.79 L2007.06,181.75 L2008.53,181.72 L2010,181.7 L2011.5,181.68 L2013,181.67 L2014.5,181.65 L2016,181.64 L2017.5,181.62 L2019,181.61 L2020.5,181.59 L2022,181.58 L2023.5,181.57 L2025,181.56 L2026.5,181.55 L2028,181.54 L2029.5,181.53 L2031,181.52 L2032.5,181.52 L2034,181.51 L2035.5,181.51 L2037,181.5 L2038.5,181.5 L2040,181.5 L2041.47,181.5 L2042.94,181.5 L2044.41,181.5 L2045.88,181.51 L2047.35,181.51 L2048.82,181.51 L2050.29,181.52 L2051.76,181.53 L2053.24,181.53 L2054.71,181.54 L2056.18,181.55 L2057.65,181.55 L2059.12,181.56 L2060.59,181.57 L2062.06,181.58 L2063.53,181.59 L2065,181.6 L2066.46,181.61 L2067.92,181.63 L2069.38,181.66 L2070.83,181.7 L2072.29,181.74 L2073.75,181.78 L2075.21,181.83 L2076.67,181.88 L2078.12,181.94 L2079.58,182 L2081.04,182.07 L2082.5,182.14 L2083.96,182.21 L2085.42,182.28 L2086.88,182.35 L2088.33,182.43 L2089.79,182.5 L2091.25,182.58 L2092.71,182.65 L2094.17,182.72 L2095.62,182.8 L2097.08,182.87 L2098.54,182.93 L2100,183 L2101.47,183.07 L2102.94,183.13 L2104.41,183.2 L2105.88,183.28 L2107.35,183.35 L2108.82,183.43 L2110.29,183.5 L2111.76,183.58 L2113.24,183.66 L2114.71,183.74 L2116.18,183.82 L2117.65,183.9 L2119.12,183.98 L2120.59,184.07 L2122.06,184.15 L2123.53,184.23 L2125,184.31 L2126.47,184.39 L2127.94,184.47 L2129.41,184.55 L2130.88,184.63 L2132.35,184.71 L2133.82,184.79 L2135.29,184.86 L2136.76,184.94 L2138.24,185.01 L2139.71,185.08 L2141.18,185.15 L2142.65,185.21 L2144.12,185.27 L2145.59,185.34 L2147.06,185.39 L2148.53,185.45 L2150,185.5 L2151.47,185.55 L2152.94,185.6 L2154.41,185.64 L2155.88,185.69 L2157.35,185.74 L2158.82,185.78 L2160.29,185.82 L2161.76,185.86 L2163.24,185.9 L2164.71,185.94 L2166.18,185.98 L2167.65,186.02 L2169.12,186.06 L2170.59,186.09 L2172.06,186.13 L2173.53,186.17 L2175,186.2 L2176.47,186.24 L2177.94,186.27 L2179.41,186.31 L2180.88,186.34 L2182.35,186.37 L2183.82,186.41 L2185.29,186.44 L2186.76,186.48 L2188.24,186.51 L2189.71,186.55 L2191.18,186.58 L2192.65,186.62 L2194.12,186.65 L2195.59,186.69 L2197.06,186.72 L2198.53,186.76 L2200,186.8" stroke="#0072BD" stroke-width="7" stroke-linejoin="round" stroke-linecap="butt"/>
<path d="M1882,167.6 L1883.48,167.62 L1884.95,167.63 L1886.43,167.65 L1887.9,167.66 L1889.38,167.68 L1890.86,167.69 L1892.33,167.71 L1893.81,167.72 L1895.29,167.74 L1896.76,167.75 L1898.24,167.76 L1899.71,167.78 L1901.19,167.79 L1902.67,167.8 L1904.14,167.82 L1905.62,167.83 L1907.1,167.84 L1908.57,167.86 L1910.05,167.87 L1911.52,167.89 L1913,167.9 L1914.48,167.92 L1915.95,167.93 L1917.43,167.94 L1918.9,167.96 L1920.38,167.98 L1921.86,167.99 L1923.33,168.01 L1924.81,168.03 L1926.29,168.04 L1927.76,168.06 L1929.24,168.08 L1930.71,168.1 L1932.19,168.12 L1933.67,168.14 L1935.14,168.16 L1936.62,168.18 L1938.1,168.2 L1939.57,168.23 L1941.05,168.25 L1942.52,168.27 L1944,168.3 L1945.5,168.33 L1947,168.36 L1948.5,168.39 L1950,168.43 L1951.5,168.47 L1953,168.51 L1954.5,168.55 L1956,168.6 L1957.5,168.65 L1959,168.7 L1960.5,168.75 L1962,168.8 L1963.5,168.86 L1965,168.92 L1966.5,168.98 L1968,169.04 L1969.5,169.1 L1971,169.16 L1972.5,169.22 L1974,169.29 L1975.5,169.35 L1977,169.42 L1978.5,169.48 L1980,169.55 L1981.5,169.61 L1983,169.68 L1984.5,169.75 L1986,169.81 L1987.5,169.88 L1989,169.94 L1990.5,170.01 L1992,170.07 L1993.5,170.14 L1995,170.2 L1996.44,170.26 L1997.89,170.34 L1999.33,170.41 L2000.78,170.49 L2002.22,170.58 L2003.67,170.66 L2005.11,170.75 L2006.56,170.84 L2008,170.92 L2009.44,171 L2010.89,171.08 L2012.33,171.15 L2013.78,171.22 L2015.22,171.28 L2016.67,171.32 L2018.11,171.36 L2019.56,171.39 L2021,171.4 L2022.48,171.41 L2023.97,171.41 L2025.45,171.42 L2026.94,171.42 L2028.42,171.43 L2029.91,171.43 L2031.39,171.44 L2032.88,171.44 L2034.36,171.45 L2035.85,171.45 L2037.33,171.46 L2038.82,171.46 L2040.3,171.46 L2041.79,171.47 L2043.27,171.47 L2044.76,171.47 L2046.24,171.48 L2047.73,171.48 L2049.21,171.48 L2050.7,171.49 L2052.18,171.49 L2053.67,171.49 L2055.15,171.49 L2056.64,171.49 L2058.12,171.49 L2059.61,171.5 L2061.09,171.5 L2062.58,171.5 L2064.06,171.5 L2065.55,171.5 L2067.03,171.5 L2068.52,171.5 L2070,171.5 L2071.48,171.5 L2072.97,171.5 L2074.45,171.5 L2075.94,171.5 L2077.42,171.5 L2078.91,171.5 L2080.39,171.5 L2081.88,171.49 L2083.36,171.49 L2084.85,171.49 L2086.33,171.49 L2087.82,171.49 L2089.3,171.49 L2090.79,171.48 L2092.27,171.48 L2093.76,171.48 L2095.24,171.48 L2096.73,171.47 L2098.21,171.47 L2099.7,171.47 L2101.18,171.46 L2102.67,171.46 L2104.15,171.45 L2105.64,171.45 L2107.12,171.44 L2108.61,171.44 L2110.09,171.43 L2111.58,171.43 L2113.06,171.42 L2114.55,171.42 L2116.03,171.41 L2117.52,171.41 L2119,171.4 L2120.5,171.38 L2122,171.35 L2123.5,171.3 L2125,171.24 L2126.5,171.16 L2128,171.07 L2129.5,170.98 L2131,170.88 L2132.5,170.78 L2134,170.67 L2135.5,170.56 L2137,170.46 L2138.5,170.36 L2140,170.26 L2141.5,170.18 L2143,170.1 L2144.5,170.03 L2146,169.95 L2147.5,169.87 L2149,169.79 L2150.5,169.71 L2152,169.63 L2153.5,169.55 L2155,169.47 L2156.5,169.39 L2158,169.31 L2159.5,169.23 L2161,169.16 L2162.5,169.09 L2164,169.02 L2165.5,168.96 L2167,168.9 L2168.5,168.85 L2170,168.81 L2171.5,168.77 L2173,168.74 L2174.5,168.72 L2176,168.7 L2177.5,168.69 L2179,168.68 L2180.5,168.67 L2182,168.66 L2183.5,168.66 L2185,168.65 L2186.5,168.65 L2188,168.64 L2189.5,168.64 L2191,168.63 L2192.5,168.63 L2194,168.62 L2195.5,168.62 L2197,168.61 L2198.5,168.61 L2200,168.6" stroke="#D95319" stroke-width="7" stroke-linejoin="round" stroke-linecap="butt"/>
<path d="M1882,153.4 L1883.49,153.38 L1884.98,153.37 L1886.47,153.35 L1887.96,153.34 L1889.45,153.32 L1890.94,153.31 L1892.43,153.29 L1893.92,153.28 L1895.41,153.27 L1896.9,153.25 L1898.39,153.24 L1899.88,153.23 L1901.37,153.21 L1902.86,153.2 L1904.35,153.19 L1905.84,153.17 L1907.33,153.16 L1908.82,153.15 L1910.31,153.14 L1911.8,153.12 L1913.29,153.11 L1914.78,153.1 L1916.27,153.08 L1917.76,153.07 L1919.24,153.06 L1920.73,153.04 L1922.22,153.03 L1923.71,153.01 L1925.2,153 L1926.69,152.98 L1928.18,152.97 L1929.67,152.95 L1931.16,152.94 L1932.65,152.92 L1934.14,152.9 L1935.63,152.88 L1937.12,152.87 L1938.61,152.85 L1940.1,152.83 L1941.59,152.81 L1943.08,152.79 L1944.57,152.77 L1946.06,152.75 L1947.55,152.72 L1949.04,152.7 L1950.53,152.68 L1952.02,152.65 L1953.51,152.63 L1955,152.6 L1956.47,152.57 L1957.94,152.53 L1959.41,152.49 L1960.88,152.45 L1962.35,152.39 L1963.82,152.34 L1965.29,152.28 L1966.76,152.21 L1968.24,152.14 L1969.71,152.07 L1971.18,152 L1972.65,151.93 L1974.12,151.85 L1975.59,151.77 L1977.06,151.69 L1978.53,151.61 L1980,151.53 L1981.47,151.46 L1982.94,151.38 L1984.41,151.3 L1985.88,151.23 L1987.35,151.15 L1988.82,151.08 L1990.29,151.02 L1991.76,150.95 L1993.24,150.89 L1994.71,150.84 L1996.18,150.79 L1997.65,150.74 L1999.12,150.7 L2000.59,150.66 L2002.06,150.64 L2003.53,150.61 L2005,150.6 L2006.47,150.59 L2007.94,150.58 L2009.41,150.57 L2010.88,150.56 L2012.35,150.55 L2013.82,150.54 L2015.29,150.53 L2016.76,150.52 L2018.24,150.51 L2019.71,150.5 L2021.18,150.5 L2022.65,150.49 L2024.12,150.48 L2025.59,150.47 L2027.06,150.47 L2028.53,150.46 L2030,150.45 L2031.47,150.45 L2032.94,150.44 L2034.41,150.44 L2035.88,150.43 L2037.35,150.43 L2038.82,150.42 L2040.29,150.42 L2041.76,150.42 L2043.24,150.41 L2044.71,150.41 L2046.18,150.41 L2047.65,150.4 L2049.12,150.4 L2050.59,150.4 L2052.06,150.4 L2053.53,150.4 L2055,150.4 L2056.5,150.4 L2058,150.4 L2059.5,150.4 L2061,150.4 L2062.5,150.4 L2064,150.4 L2065.5,150.41 L2067,150.41 L2068.5,150.41 L2070,150.41 L2071.5,150.42 L2073,150.42 L2074.5,150.42 L2076,150.43 L2077.5,150.43 L2079,150.43 L2080.5,150.44 L2082,150.44 L2083.5,150.45 L2085,150.46 L2086.5,150.46 L2088,150.47 L2089.5,150.48 L2091,150.48 L2092.5,150.49 L2094,150.5 L2095.5,150.51 L2097,150.52 L2098.5,150.52 L2100,150.53 L2101.5,150.54 L2103,150.55 L2104.5,150.57 L2106,150.58 L2107.5,150.59 L2109,150.6 L2110.43,150.63 L2111.86,150.68 L2113.29,150.76 L2114.71,150.85 L2116.14,150.96 L2117.57,151.09 L2119,151.22 L2120.43,151.36 L2121.86,151.5 L2123.29,151.64 L2124.71,151.77 L2126.14,151.89 L2127.57,152.01 L2129,152.1 L2130.47,152.19 L2131.93,152.28 L2133.4,152.37 L2134.87,152.46 L2136.33,152.55 L2137.8,152.65 L2139.27,152.74 L2140.73,152.83 L2142.2,152.92 L2143.67,153.01 L2145.13,153.1 L2146.6,153.19 L2148.07,153.28 L2149.53,153.36 L2151,153.44 L2152.47,153.52 L2153.93,153.6 L2155.4,153.67 L2156.87,153.74 L2158.33,153.81 L2159.8,153.87 L2161.27,153.93 L2162.73,153.98 L2164.2,154.03 L2165.67,154.07 L2167.13,154.11 L2168.6,154.14 L2170.07,154.17 L2171.53,154.19 L2173,154.2 L2174.5,154.21 L2176,154.22 L2177.5,154.23 L2179,154.23 L2180.5,154.24 L2182,154.24 L2183.5,154.25 L2185,154.25 L2186.5,154.26 L2188,154.26 L2189.5,154.27 L2191,154.27 L2192.5,154.28 L2194,154.28 L2195.5,154.29 L2197,154.29 L2198.5,154.29 L2200,154.3" stroke="#A2142F" stroke-width="7" stroke-linejoin="round" stroke-linecap="butt"/>
<path d="M1882,188.2 L1883.5,188.19 L1885,188.17 L1886.5,188.16 L1888,188.15 L1889.5,188.14 L1891,188.12 L1892.5,188.11 L1894,188.1 L1895.5,188.09 L1897,188.08 L1898.5,188.07 L1900,188.06 L1901.5,188.05 L1903,188.04 L1904.5,188.03 L1906,188.01 L1907.5,188 L1909,187.99 L1910.5,187.98 L1912,187.97 L1913.5,187.96 L1915,187.95 L1916.5,187.94 L1918,187.93 L1919.5,187.92 L1921,187.91 L1922.5,187.9 L1924,187.88 L1925.5,187.87 L1927,187.86 L1928.5,187.85 L1930,187.84 L1931.5,187.82 L1933,187.81 L1934.5,187.8 L1936,187.78 L1937.5,187.77 L1939,187.75 L1940.5,187.74 L1942,187.72 L1943.5,187.71 L1945,187.69 L1946.5,187.68 L1948,187.66 L1949.5,187.64 L1951,187.62 L1952.5,187.6 L1954,187.58 L1955.5,187.56 L1957,187.54 L1958.5,187.52 L1960,187.5 L1961.49,187.48 L1962.97,187.45 L1964.46,187.42 L1965.95,187.38 L1967.44,187.35 L1968.92,187.31 L1970.41,187.27 L1971.9,187.22 L1973.39,187.17 L1974.88,187.13 L1976.36,187.07 L1977.85,187.02 L1979.34,186.97 L1980.83,186.91 L1982.31,186.85 L1983.8,186.79 L1985.29,186.73 L1986.78,186.67 L1988.26,186.6 L1989.75,186.54 L1991.24,186.47 L1992.72,186.41 L1994.21,186.34 L1995.7,186.28 L1997.19,186.21 L1998.67,186.14 L2000.16,186.08 L2001.65,186.01 L2003.14,185.95 L2004.62,185.88 L2006.11,185.82 L2007.6,185.76 L2009.09,185.69 L2010.58,185.63 L2012.06,185.57 L2013.55,185.51 L2015.04,185.46 L2016.53,185.4 L2018.01,185.35 L2019.5,185.3 L2020.98,185.25 L2022.46,185.2 L2023.94,185.14 L2025.42,185.09 L2026.9,185.03 L2028.38,184.97 L2029.85,184.91 L2031.33,184.86 L2032.81,184.8 L2034.29,184.74 L2035.77,184.69 L2037.25,184.63 L2038.73,184.58 L2040.21,184.53 L2041.69,184.48 L2043.17,184.43 L2044.65,184.39 L2046.12,184.35 L2047.6,184.31 L2049.08,184.28 L2050.56,184.25 L2052.04,184.23 L2053.52,184.21 L2055,184.2 L2056.47,184.19 L2057.94,184.18 L2059.41,184.17 L2060.88,184.16 L2062.35,184.15 L2063.82,184.15 L2065.29,184.14 L2066.76,184.13 L2068.24,184.13 L2069.71,184.12 L2071.18,184.11 L2072.65,184.11 L2074.12,184.11 L2075.59,184.1 L2077.06,184.1 L2078.53,184.1 L2080,184.1 L2081.47,184.1 L2082.93,184.1 L2084.4,184.11 L2085.87,184.12 L2087.33,184.13 L2088.8,184.14 L2090.27,184.15 L2091.73,184.17 L2093.2,184.18 L2094.67,184.2 L2096.13,184.22 L2097.6,184.24 L2099.07,184.26 L2100.53,184.28 L2102,184.3 L2103.5,184.33 L2105,184.36 L2106.5,184.41 L2108,184.46 L2109.5,184.52 L2111,184.58 L2112.5,184.65 L2114,184.73 L2115.5,184.81 L2117,184.89 L2118.5,184.98 L2120,185.07 L2121.5,185.17 L2123,185.26 L2124.5,185.36 L2126,185.45 L2127.5,185.55 L2129,185.64 L2130.5,185.73 L2132,185.83 L2133.5,185.91 L2135,186 L2136.47,186.08 L2137.94,186.17 L2139.41,186.27 L2140.88,186.36 L2142.35,186.46 L2143.82,186.56 L2145.29,186.65 L2146.76,186.75 L2148.24,186.85 L2149.71,186.95 L2151.18,187.04 L2152.65,187.13 L2154.12,187.22 L2155.59,187.3 L2157.06,187.37 L2158.53,187.44 L2160,187.5 L2161.48,187.56 L2162.96,187.61 L2164.44,187.66 L2165.93,187.71 L2167.41,187.76 L2168.89,187.81 L2170.37,187.85 L2171.85,187.89 L2173.33,187.93 L2174.81,187.97 L2176.3,188.01 L2177.78,188.05 L2179.26,188.09 L2180.74,188.12 L2182.22,188.16 L2183.7,188.2 L2185.19,188.23 L2186.67,188.27 L2188.15,188.3 L2189.63,188.34 L2191.11,188.37 L2192.59,188.41 L2194.07,188.45 L2195.56,188.48 L2197.04,188.52 L2198.52,188.56 L2200,188.6" stroke="#7E2F8E" stroke-width="7" stroke-linejoin="round" stroke-linecap="butt"/>
</g>
<text fill="#0e0e0e"><tspan x="1869.19" y="290.7" font-size="17.17" textLength="26.01" lengthAdjust="spacingAndGlyphs" font-weight="bold" stroke="#0e0e0e" stroke-width="0.3" stroke-linejoin="round">211</tspan></text>
<text fill="#0e0e0e"><tspan x="1926.29" y="290.7" font-size="17.17" textLength="39.02" lengthAdjust="spacingAndGlyphs" font-weight="bold" stroke="#0e0e0e" stroke-width="0.3" stroke-linejoin="round">211.1</tspan></text>
<text fill="#0e0e0e"><tspan x="1989.89" y="290.7" font-size="17.17" textLength="39.02" lengthAdjust="spacingAndGlyphs" font-weight="bold" stroke="#0e0e0e" stroke-width="0.3" stroke-linejoin="round">211.2</tspan></text>
<text fill="#0e0e0e"><tspan x="2053.49" y="290.7" font-size="17.17" textLength="39.02" lengthAdjust="spacingAndGlyphs" font-weight="bold" stroke="#0e0e0e" stroke-width="0.3" stroke-linejoin="round">211.3</tspan></text>
<text fill="#0e0e0e"><tspan x="2117.09" y="290.7" font-size="17.17" textLength="39.02" lengthAdjust="spacingAndGlyphs" font-weight="bold" stroke="#0e0e0e" stroke-width="0.3" stroke-linejoin="round">211.4</tspan></text>
<text fill="#0e0e0e"><tspan x="2180.69" y="290.7" font-size="17.17" textLength="39.02" lengthAdjust="spacingAndGlyphs" font-weight="bold" stroke="#0e0e0e" stroke-width="0.3" stroke-linejoin="round">211.5</tspan></text>
<text fill="#0e0e0e"><tspan x="1869.83" y="106.5" font-size="17.17" textLength="8.67" lengthAdjust="spacingAndGlyphs" font-weight="bold" stroke="#0e0e0e" stroke-width="0.3" stroke-linejoin="round">3</tspan></text>
<text fill="#0e0e0e"><tspan x="1856.83" y="149" font-size="17.17" textLength="21.68" lengthAdjust="spacingAndGlyphs" font-weight="bold" stroke="#0e0e0e" stroke-width="0.3" stroke-linejoin="round">2.5</tspan></text>
<text fill="#0e0e0e"><tspan x="1869.83" y="191.5" font-size="17.17" textLength="8.67" lengthAdjust="spacingAndGlyphs" font-weight="bold" stroke="#0e0e0e" stroke-width="0.3" stroke-linejoin="round">2</tspan></text>
<text fill="#0e0e0e"><tspan x="1856.83" y="234" font-size="17.17" textLength="21.68" lengthAdjust="spacingAndGlyphs" font-weight="bold" stroke="#0e0e0e" stroke-width="0.3" stroke-linejoin="round">1.5</tspan></text>
<text fill="#0e0e0e"><tspan x="1869.83" y="276.5" font-size="17.17" textLength="8.67" lengthAdjust="spacingAndGlyphs" font-weight="bold" stroke="#0e0e0e" stroke-width="0.3" stroke-linejoin="round">1</tspan></text>
<text fill="#0e0e0e"><tspan x="1882.64" y="98.11" font-size="19.8906" textLength="11.51" lengthAdjust="spacingAndGlyphs" stroke="#0e0e0e" stroke-width="0.7" stroke-linejoin="round">×</tspan><tspan x="1895.2" y="96.7" font-size="17.34" textLength="17" lengthAdjust="spacingAndGlyphs" font-weight="bold" stroke="#0e0e0e" stroke-width="0.3" stroke-linejoin="round">10</tspan><tspan x="1912.09" y="94.5" font-size="22.9147" textLength="9.81" lengthAdjust="spacingAndGlyphs" font-weight="bold">−</tspan><tspan x="1920.8" y="90.3" font-size="13.608" textLength="6.3" lengthAdjust="spacingAndGlyphs" font-weight="bold" stroke="#0e0e0e" stroke-width="0.4" stroke-linejoin="round">3</tspan></text>
<rect x="615" y="529" width="318" height="170" fill="#fff" stroke="#171717" stroke-width="2"/>
<path d="M640,529V533M640,699V695M689,529V533M689,699V695M737,529V533M737,699V695M786,529V533M786,699V695M835,529V533M835,699V695M884,529V533M884,699V695M615,557H619.8M933,557H928.2M615,614H619.8M933,614H928.2M615,670H619.8M933,670H928.2" stroke="#171717" stroke-width="2" fill="none"/>
<g id="in3">
<path d="M615,677 L616.25,675.04 L617.5,673.1 L618.75,671.12 L620,669 L621.26,666.77 L622.52,664.46 L623.78,662.03 L625.04,659.4 L626.3,656.5 L627.45,653.48 L628.6,650.08 L629.75,646.42 L630.9,642.6 L632.13,638.1 L633.37,633.29 L634.6,628.8 L636.05,623.76 L637.5,620 L638.67,618.32 L639.83,617.05 L641,616.4 L642.25,616.18 L643.5,616.03 L644.75,615.93 L646,615.8 L933,615.8" stroke="#0072BD" stroke-width="7" stroke-linejoin="round" stroke-linecap="butt"/>
<path d="M615,570.5 L616.25,572.59 L617.5,574.64 L618.75,576.76 L620,579 L621.5,581.9 L623,585 L624.5,588.3 L625.67,591.09 L626.83,594.04 L628,597 L629.3,600.27 L630.6,603.53 L631.9,606.7 L633.27,610.1 L634.63,613.4 L636,616 L637.25,617.79 L638.5,619.36 L639.75,620.63 L641,621.5 L642.4,622.19 L643.8,622.77 L645.2,623.25 L646.6,623.59 L648,623.8 L649.5,623.93 L651,624.05 L652.5,624.15 L654,624.24 L655.5,624.31 L657,624.36 L658.5,624.39 L660,624.4 L661.5,624.4 L663,624.4 L664.5,624.4 L666,624.4 L667.5,624.4 L669,624.4 L670.5,624.4 L672,624.4 L673.5,624.4 L675,624.4 L676.5,624.4 L678,624.4 L679.5,624.4 L681,624.4 L682.5,624.4 L684,624.4 L685.5,624.4 L687,624.4 L688.5,624.4 L690,624.4 L691.5,624.4 L693,624.4 L694.5,624.39 L696,624.38 L697.5,624.37 L699,624.36 L700.5,624.35 L702,624.33 L703.5,624.31 L705,624.29 L706.5,624.27 L708,624.25 L709.5,624.22 L711,624.2 L712.5,624.17 L714,624.14 L715.5,624.11 L717,624.07 L718.5,624.04 L720,624 L721.5,623.95 L723,623.89 L724.5,623.81 L726,623.71 L727.5,623.6 L729,623.47 L730.5,623.32 L732,623.16 L733.5,622.99 L735,622.8 L736.4,622.57 L737.8,622.25 L739.2,621.86 L740.6,621.44 L742,621 L743.4,620.49 L744.8,619.87 L746.2,619.23 L747.6,618.65 L749,618.2 L750.4,617.85 L751.8,617.52 L753.2,617.24 L754.6,617.03 L756,616.9 L757.4,616.83 L758.8,616.77 L760.2,616.73 L761.6,616.69 L763,616.66 L764.4,616.63 L765.8,616.6 L767.2,616.57 L768.6,616.54 L770,616.5 L933,616.5" stroke="#D95319" stroke-width="7" stroke-linejoin="round" stroke-linecap="butt"/>
<path d="M615,689.5 L616.27,684.85 L617.53,680.34 L618.8,675.82 L620.07,671.17 L621.33,666.27 L622.6,661 L623.83,655.01 L625.07,648.5 L626.3,642.6 L627.53,637.5 L628.77,632.85 L630,629 L631.17,625.96 L632.33,623.35 L633.5,621.5 L635,619.88 L636.5,618.64 L638,618 L639.4,617.78 L640.8,617.63 L642.2,617.52 L643.6,617.42 L645,617.3 L933,617.3" stroke="#A2142F" stroke-width="7" stroke-linejoin="round" stroke-linecap="butt"/>
<path d="M615,697 L616.3,683.37 L617.6,670.3 L618.67,660.13 L619.73,650.51 L620.8,642.6 L622.2,634.58 L623.6,628.8 L624.73,625.57 L625.87,623.01 L627,621.5 L628.34,620.58 L629.68,619.86 L631.02,619.31 L632.36,618.92 L633.7,618.7 L634.96,618.58 L636.22,618.5 L637.48,618.43 L638.74,618.37 L640,618.3 L933,618.3" stroke="#7E2F8E" stroke-width="7" stroke-linejoin="round" stroke-linecap="butt"/>
</g>
<text fill="#0e0e0e"><tspan x="635.33" y="717.7" font-size="17.17" textLength="8.67" lengthAdjust="spacingAndGlyphs" font-weight="bold" stroke="#0e0e0e" stroke-width="0.3" stroke-linejoin="round">2</tspan></text>
<text fill="#0e0e0e"><tspan x="684.25" y="717.7" font-size="17.17" textLength="8.67" lengthAdjust="spacingAndGlyphs" font-weight="bold" stroke="#0e0e0e" stroke-width="0.3" stroke-linejoin="round">4</tspan></text>
<text fill="#0e0e0e"><tspan x="733.17" y="717.7" font-size="17.17" textLength="8.67" lengthAdjust="spacingAndGlyphs" font-weight="bold" stroke="#0e0e0e" stroke-width="0.3" stroke-linejoin="round">6</tspan></text>
<text fill="#0e0e0e"><tspan x="782.1" y="717.7" font-size="17.17" textLength="8.67" lengthAdjust="spacingAndGlyphs" font-weight="bold" stroke="#0e0e0e" stroke-width="0.3" stroke-linejoin="round">8</tspan></text>
<text fill="#0e0e0e"><tspan x="826.68" y="717.7" font-size="17.17" textLength="17.34" lengthAdjust="spacingAndGlyphs" font-weight="bold" stroke="#0e0e0e" stroke-width="0.3" stroke-linejoin="round">10</tspan></text>
<text fill="#0e0e0e"><tspan x="875.61" y="717.7" font-size="17.17" textLength="17.34" lengthAdjust="spacingAndGlyphs" font-weight="bold" stroke="#0e0e0e" stroke-width="0.3" stroke-linejoin="round">12</tspan></text>
<text fill="#0e0e0e"><tspan x="924.53" y="717.7" font-size="17.17" textLength="17.34" lengthAdjust="spacingAndGlyphs" font-weight="bold" stroke="#0e0e0e" stroke-width="0.3" stroke-linejoin="round">14</tspan></text>
<text fill="#0e0e0e"><tspan x="589.83" y="561.83" font-size="17.17" textLength="21.68" lengthAdjust="spacingAndGlyphs" font-weight="bold" stroke="#0e0e0e" stroke-width="0.3" stroke-linejoin="round">0.2</tspan></text>
<text fill="#0e0e0e"><tspan x="602.83" y="618.5" font-size="17.17" textLength="8.67" lengthAdjust="spacingAndGlyphs" font-weight="bold" stroke="#0e0e0e" stroke-width="0.3" stroke-linejoin="round">0</tspan></text>
<text fill="#0e0e0e"><tspan x="576.6" y="678.89" font-size="24.3469" textLength="13.24" lengthAdjust="spacingAndGlyphs" font-weight="bold">−</tspan><tspan x="589.83" y="675.17" font-size="17.17" textLength="21.68" lengthAdjust="spacingAndGlyphs" font-weight="bold" stroke="#0e0e0e" stroke-width="0.3" stroke-linejoin="round">0.2</tspan></text>
<rect x="1882" y="529" width="318" height="170" fill="#fff" stroke="#171717" stroke-width="2"/>
<path d="M1946,529V533M1946,699V695M2009,529V533M2009,699V695M2073,529V533M2073,699V695M2136,529V533M2136,699V695M1882,557H1886.8M2200,557H2195.2M1882,592H1886.8M2200,592H2195.2M1882,628H1886.8M2200,628H2195.2M1882,663H1886.8M2200,663H2195.2" stroke="#171717" stroke-width="2" fill="none"/>
<g id="in4">
<path d="M1882,640.6 L1912.2,640.6 L1913.2,641.7 L2020.5,641.7 L2021.5,642.6 L2121.5,642.6 L2122.5,643.4 L2200,643.4" stroke="#0072BD" stroke-width="7" stroke-linejoin="round" stroke-linecap="butt"/>
<path d="M1882,598.6 L2089.5,598.6 L2090.5,599.6 L2185.5,599.6 L2186.5,600.6 L2200,600.6" stroke="#D95319" stroke-width="7" stroke-linejoin="round" stroke-linecap="butt"/>
<path d="M1882,573.7 L1988.5,573.7 L1989.5,574.7 L2200,574.7" stroke="#A2142F" stroke-width="7" stroke-linejoin="round" stroke-linecap="butt"/>
<path d="M1882,553.7 L1899.5,553.7 L1900.5,554.6 L2121.5,554.6 L2122.5,555.5 L2200,555.5" stroke="#7E2F8E" stroke-width="7" stroke-linejoin="round" stroke-linecap="butt"/>
</g>
<text fill="#0e0e0e"><tspan x="1869.19" y="717.7" font-size="17.17" textLength="26.01" lengthAdjust="spacingAndGlyphs" font-weight="bold" stroke="#0e0e0e" stroke-width="0.3" stroke-linejoin="round">208</tspan></text>
<text fill="#0e0e0e"><tspan x="1926.29" y="717.7" font-size="17.17" textLength="39.02" lengthAdjust="spacingAndGlyphs" font-weight="bold" stroke="#0e0e0e" stroke-width="0.3" stroke-linejoin="round">208.1</tspan></text>
<text fill="#0e0e0e"><tspan x="1989.89" y="717.7" font-size="17.17" textLength="39.02" lengthAdjust="spacingAndGlyphs" font-weight="bold" stroke="#0e0e0e" stroke-width="0.3" stroke-linejoin="round">208.2</tspan></text>
<text fill="#0e0e0e"><tspan x="2053.49" y="717.7" font-size="17.17" textLength="39.02" lengthAdjust="spacingAndGlyphs" font-weight="bold" stroke="#0e0e0e" stroke-width="0.3" stroke-linejoin="round">208.3</tspan></text>
<text fill="#0e0e0e"><tspan x="2117.09" y="717.7" font-size="17.17" textLength="39.02" lengthAdjust="spacingAndGlyphs" font-weight="bold" stroke="#0e0e0e" stroke-width="0.3" stroke-linejoin="round">208.4</tspan></text>
<text fill="#0e0e0e"><tspan x="2180.69" y="717.7" font-size="17.17" textLength="39.02" lengthAdjust="spacingAndGlyphs" font-weight="bold" stroke="#0e0e0e" stroke-width="0.3" stroke-linejoin="round">208.5</tspan></text>
<text fill="#0e0e0e"><tspan x="1848.15" y="561.83" font-size="17.17" textLength="30.34" lengthAdjust="spacingAndGlyphs" font-weight="bold" stroke="#0e0e0e" stroke-width="0.3" stroke-linejoin="round">0.01</tspan></text>
<text fill="#0e0e0e"><tspan x="1839.48" y="597.25" font-size="17.17" textLength="39.02" lengthAdjust="spacingAndGlyphs" font-weight="bold" stroke="#0e0e0e" stroke-width="0.3" stroke-linejoin="round">0.005</tspan></text>
<text fill="#0e0e0e"><tspan x="1869.83" y="632.67" font-size="17.17" textLength="8.67" lengthAdjust="spacingAndGlyphs" font-weight="bold" stroke="#0e0e0e" stroke-width="0.3" stroke-linejoin="round">0</tspan></text>
<text fill="#0e0e0e"><tspan x="1826.26" y="671.81" font-size="24.3469" textLength="13.24" lengthAdjust="spacingAndGlyphs" font-weight="bold">−</tspan><tspan x="1839.48" y="668.08" font-size="17.17" textLength="39.02" lengthAdjust="spacingAndGlyphs" font-weight="bold" stroke="#0e0e0e" stroke-width="0.3" stroke-linejoin="round">0.005</tspan></text>
<text fill="#0e0e0e"><tspan x="1834.93" y="707.23" font-size="24.3469" textLength="13.24" lengthAdjust="spacingAndGlyphs" font-weight="bold">−</tspan><tspan x="1848.15" y="703.5" font-size="17.17" textLength="30.34" lengthAdjust="spacingAndGlyphs" font-weight="bold" stroke="#0e0e0e" stroke-width="0.3" stroke-linejoin="round">0.01</tspan></text>
<rect x="615" y="954" width="318" height="170" fill="#fff" stroke="#171717" stroke-width="2"/>
<path d="M626,954V958M626,1124V1120M677,954V958M677,1124V1120M728,954V958M728,1124V1120M779,954V958M779,1124V1120M830,954V958M830,1124V1120M882,954V958M882,1124V1120M615,1011H619.8M933,1011H928.2M615,1067H619.8M933,1067H928.2" stroke="#171717" stroke-width="2" fill="none"/>
<g id="in5">
<path d="M615,1033.1 L616.36,1032.15 L617.71,1031.26 L619.07,1030.38 L620.43,1029.47 L621.79,1028.5 L623.14,1027.42 L624.5,1026.2 L625.98,1024.54 L627.46,1022.51 L628.94,1020.3 L630.42,1018.11 L631.9,1016.1 L633.18,1014.49 L634.46,1012.89 L635.74,1011.36 L637.02,1009.94 L638.3,1008.7 L639.61,1007.55 L640.93,1006.45 L642.24,1005.41 L643.56,1004.45 L644.87,1003.59 L646.19,1002.83 L647.5,1002.2 L648.88,1001.63 L650.26,1001.09 L651.64,1000.59 L653.02,1000.12 L654.4,999.69 L655.78,999.3 L657.16,998.95 L658.54,998.63 L659.92,998.35 L661.3,998.1 L662.69,997.87 L664.08,997.64 L665.47,997.42 L666.86,997.2 L668.25,997.01 L669.64,996.84 L671.03,996.7 L672.42,996.59 L673.81,996.52 L675.2,996.5 L676.66,996.5 L678.12,996.5 L679.58,996.51 L681.04,996.51 L682.49,996.51 L683.95,996.52 L685.41,996.53 L686.87,996.53 L688.33,996.54 L689.79,996.55 L691.25,996.56 L692.71,996.56 L694.16,996.57 L695.62,996.58 L697.08,996.59 L698.54,996.59 L700,996.6 L823,996.8 L826,995.8 L933,995.8" stroke="#0072BD" stroke-width="7" stroke-linejoin="round" stroke-linecap="butt"/>
<path d="M615,1099 L616.47,1097.85 L617.93,1096.81 L619.4,1095.77 L620.87,1094.62 L622.33,1093.26 L623.8,1091.6 L625.13,1089.55 L626.47,1086.77 L627.8,1083.3 L628.97,1078.8 L630.13,1073.04 L631.3,1067.6 L632.53,1062.73 L633.77,1058.14 L635,1053.8 L636.27,1049.58 L637.53,1045.59 L638.8,1041.8 L639.8,1038.89 L640.8,1036.3 L642.05,1033.65 L643.3,1031.3 L644.55,1029.16 L645.8,1027.1 L647.06,1025.06 L648.32,1023.1 L649.58,1021.23 L650.84,1019.49 L652.1,1017.9 L653.58,1016.16 L655.06,1014.51 L656.54,1012.98 L658.02,1011.63 L659.5,1010.5 L660.88,1009.59 L662.25,1008.73 L663.62,1007.94 L665,1007.21 L666.38,1006.54 L667.75,1005.95 L669.12,1005.44 L670.5,1005 L671.88,1004.62 L673.27,1004.27 L674.65,1003.96 L676.03,1003.66 L677.42,1003.39 L678.8,1003.14 L680.18,1002.9 L681.57,1002.67 L682.95,1002.45 L684.33,1002.24 L685.72,1002.02 L687.1,1001.8 L688.55,1001.56 L690,1001.32 L691.45,1001.07 L692.9,1000.83 L694.35,1000.58 L695.8,1000.35 L697.25,1000.12 L698.7,999.9 L700.15,999.7 L701.6,999.52 L703.05,999.35 L704.5,999.21 L705.95,999.09 L707.4,999 L708.81,998.93 L710.23,998.86 L711.64,998.8 L713.05,998.74 L714.46,998.69 L715.88,998.64 L717.29,998.59 L718.7,998.54 L720.11,998.5 L721.52,998.47 L722.94,998.43 L724.35,998.4 L725.76,998.37 L727.17,998.34 L728.59,998.32 L730,998.3 L731.5,998.28 L733,998.26 L734.5,998.24 L736,998.22 L737.5,998.2 L739,998.19 L740.5,998.17 L742,998.15 L743.5,998.14 L745,998.12 L746.5,998.11 L748,998.09 L749.5,998.08 L751,998.06 L752.5,998.05 L754,998.04 L755.5,998.02 L757,998.01 L758.5,998 L760,997.99 L761.5,997.98 L763,997.97 L764.5,997.95 L766,997.94 L767.5,997.93 L769,997.92 L770.5,997.91 L772,997.9 L773.5,997.9 L775,997.89 L776.5,997.88 L778,997.87 L779.5,997.86 L781,997.85 L782.5,997.84 L784,997.83 L785.5,997.83 L787,997.82 L788.5,997.81 L790,997.8 L791.5,997.79 L793,997.78 L794.5,997.78 L796,997.77 L797.5,997.76 L799,997.75 L800.5,997.74 L802,997.73 L803.5,997.73 L805,997.72 L806.5,997.71 L808,997.7 L809.5,997.69 L811,997.68 L812.5,997.67 L814,997.66 L815.5,997.65 L817,997.64 L818.5,997.63 L820,997.62 L821.5,997.61 L823,997.6 L826,996.8 L933,996.6" stroke="#D95319" stroke-width="7" stroke-linejoin="round" stroke-linecap="butt"/>
<path d="M615,1082.8 L616.47,1081.48 L617.93,1080.32 L619.4,1079.16 L620.87,1077.84 L622.33,1076.2 L623.8,1074.1 L624.97,1071.28 L626.13,1067.25 L627.3,1063 L628.5,1058.38 L629.7,1053.46 L630.9,1049.2 L632.13,1045.73 L633.37,1042.7 L634.6,1040 L635.6,1038.17 L636.6,1036.3 L637.83,1033.07 L639.05,1029.2 L640.27,1025.43 L641.5,1022.5 L642.88,1020.13 L644.26,1018.08 L645.64,1016.29 L647.02,1014.72 L648.4,1013.3 L649.78,1011.99 L651.17,1010.77 L652.55,1009.65 L653.93,1008.64 L655.32,1007.72 L656.7,1006.9 L658.09,1006.14 L659.48,1005.41 L660.86,1004.72 L662.25,1004.07 L663.64,1003.49 L665.02,1002.97 L666.41,1002.54 L667.8,1002.2 L669.18,1001.93 L670.57,1001.68 L671.95,1001.46 L673.33,1001.26 L674.72,1001.08 L676.1,1000.91 L677.48,1000.76 L678.87,1000.61 L680.25,1000.46 L681.63,1000.31 L683.02,1000.16 L684.4,1000 L685.82,999.83 L687.24,999.64 L688.65,999.46 L690.07,999.27 L691.49,999.09 L692.91,998.91 L694.33,998.75 L695.75,998.6 L697.16,998.48 L698.58,998.37 L700,998.3 L701.43,998.24 L702.86,998.19 L704.29,998.14 L705.71,998.09 L707.14,998.04 L708.57,998 L710,997.97 L711.43,997.93 L712.86,997.9 L714.29,997.87 L715.71,997.85 L717.14,997.83 L718.57,997.81 L720,997.8 L721.49,997.79 L722.99,997.78 L724.48,997.77 L725.97,997.75 L727.46,997.74 L728.96,997.73 L730.45,997.72 L731.94,997.71 L733.43,997.71 L734.93,997.7 L736.42,997.69 L737.91,997.68 L739.41,997.67 L740.9,997.66 L742.39,997.66 L743.88,997.65 L745.38,997.64 L746.87,997.63 L748.36,997.63 L749.86,997.62 L751.35,997.62 L752.84,997.61 L754.33,997.6 L755.83,997.6 L757.32,997.59 L758.81,997.59 L760.3,997.58 L761.8,997.58 L763.29,997.57 L764.78,997.57 L766.28,997.56 L767.77,997.56 L769.26,997.55 L770.75,997.55 L772.25,997.54 L773.74,997.54 L775.23,997.54 L776.72,997.53 L778.22,997.53 L779.71,997.52 L781.2,997.52 L782.7,997.52 L784.19,997.51 L785.68,997.51 L787.17,997.51 L788.67,997.5 L790.16,997.5 L791.65,997.49 L793.14,997.49 L794.64,997.49 L796.13,997.48 L797.62,997.48 L799.12,997.48 L800.61,997.47 L802.1,997.47 L803.59,997.46 L805.09,997.46 L806.58,997.45 L808.07,997.45 L809.57,997.45 L811.06,997.44 L812.55,997.44 L814.04,997.43 L815.54,997.43 L817.03,997.42 L818.52,997.42 L820.01,997.41 L821.51,997.41 L823,997.4 L826,996.5 L933,996.4" stroke="#A2142F" stroke-width="7" stroke-linejoin="round" stroke-linecap="butt"/>
<path d="M615,1057 L616.36,1055.91 L617.71,1054.88 L619.07,1053.86 L620.43,1052.82 L621.79,1051.69 L623.14,1050.43 L624.5,1049 L626,1047.18 L627.5,1044.94 L629,1042 L630.27,1037.58 L631.53,1031.74 L632.8,1027 L633.95,1024.22 L635.1,1021.87 L636.25,1019.84 L637.4,1018 L638.88,1015.75 L640.36,1013.65 L641.84,1011.74 L643.32,1010.08 L644.8,1008.7 L646.11,1007.67 L647.43,1006.73 L648.74,1005.88 L650.06,1005.1 L651.37,1004.4 L652.69,1003.77 L654,1003.2 L655.5,1002.6 L657,1002.03 L658.5,1001.5 L660,1001.02 L661.5,1000.57 L663,1000.17 L664.5,999.81 L666,999.5 L667.4,999.24 L668.8,998.99 L670.2,998.75 L671.6,998.52 L673,998.32 L674.4,998.13 L675.8,997.96 L677.2,997.82 L678.6,997.69 L680,997.6 L681.43,997.52 L682.86,997.45 L684.29,997.39 L685.71,997.33 L687.14,997.28 L688.57,997.24 L690,997.19 L691.43,997.15 L692.86,997.11 L694.29,997.07 L695.71,997.03 L697.14,996.99 L698.57,996.95 L700,996.9 L823,996.8 L826,995.8 L933,995.8" stroke="#7E2F8E" stroke-width="7" stroke-linejoin="round" stroke-linecap="butt"/>
</g>
<text fill="#0e0e0e"><tspan x="621.12" y="1142.7" font-size="17.17" textLength="8.67" lengthAdjust="spacingAndGlyphs" font-weight="bold" stroke="#0e0e0e" stroke-width="0.3" stroke-linejoin="round">2</tspan></text>
<text fill="#0e0e0e"><tspan x="665.91" y="1142.7" font-size="17.17" textLength="21.68" lengthAdjust="spacingAndGlyphs" font-weight="bold" stroke="#0e0e0e" stroke-width="0.3" stroke-linejoin="round">2.5</tspan></text>
<text fill="#0e0e0e"><tspan x="723.7" y="1142.7" font-size="17.17" textLength="8.67" lengthAdjust="spacingAndGlyphs" font-weight="bold" stroke="#0e0e0e" stroke-width="0.3" stroke-linejoin="round">3</tspan></text>
<text fill="#0e0e0e"><tspan x="768.49" y="1142.7" font-size="17.17" textLength="21.68" lengthAdjust="spacingAndGlyphs" font-weight="bold" stroke="#0e0e0e" stroke-width="0.3" stroke-linejoin="round">3.5</tspan></text>
<text fill="#0e0e0e"><tspan x="826.28" y="1142.7" font-size="17.17" textLength="8.67" lengthAdjust="spacingAndGlyphs" font-weight="bold" stroke="#0e0e0e" stroke-width="0.3" stroke-linejoin="round">4</tspan></text>
<text fill="#0e0e0e"><tspan x="871.07" y="1142.7" font-size="17.17" textLength="21.68" lengthAdjust="spacingAndGlyphs" font-weight="bold" stroke="#0e0e0e" stroke-width="0.3" stroke-linejoin="round">4.5</tspan></text>
<text fill="#0e0e0e"><tspan x="928.87" y="1142.7" font-size="17.17" textLength="8.67" lengthAdjust="spacingAndGlyphs" font-weight="bold" stroke="#0e0e0e" stroke-width="0.3" stroke-linejoin="round">5</tspan></text>
<text fill="#0e0e0e"><tspan x="581.15" y="958.5" font-size="17.17" textLength="30.34" lengthAdjust="spacingAndGlyphs" font-weight="bold" stroke="#0e0e0e" stroke-width="0.3" stroke-linejoin="round">0.02</tspan></text>
<text fill="#0e0e0e"><tspan x="602.83" y="1015.17" font-size="17.17" textLength="8.67" lengthAdjust="spacingAndGlyphs" font-weight="bold" stroke="#0e0e0e" stroke-width="0.3" stroke-linejoin="round">0</tspan></text>
<text fill="#0e0e0e"><tspan x="567.93" y="1075.56" font-size="24.3469" textLength="13.24" lengthAdjust="spacingAndGlyphs" font-weight="bold">−</tspan><tspan x="581.15" y="1071.83" font-size="17.17" textLength="30.34" lengthAdjust="spacingAndGlyphs" font-weight="bold" stroke="#0e0e0e" stroke-width="0.3" stroke-linejoin="round">0.02</tspan></text>
<text fill="#0e0e0e"><tspan x="567.93" y="1132.23" font-size="24.3469" textLength="13.24" lengthAdjust="spacingAndGlyphs" font-weight="bold">−</tspan><tspan x="581.15" y="1128.5" font-size="17.17" textLength="30.34" lengthAdjust="spacingAndGlyphs" font-weight="bold" stroke="#0e0e0e" stroke-width="0.3" stroke-linejoin="round">0.04</tspan></text>
<rect x="1882" y="954" width="318" height="170" fill="#fff" stroke="#171717" stroke-width="2"/>
<path d="M1946,954V958M1946,1124V1120M2009,954V958M2009,1124V1120M2073,954V958M2073,1124V1120M2136,954V958M2136,1124V1120M1882,1011H1886.8M2200,1011H2195.2M1882,1067H1886.8M2200,1067H2195.2" stroke="#171717" stroke-width="2" fill="none"/>
<g id="in6">
<path d="M1882,1037.4 L1904.5,1037.4 L1905.5,1038.5 L2002.5,1038.5 L2003.5,1039.6 L2095.5,1039.6 L2096.5,1040.6 L2189.5,1040.6 L2190.5,1041.5 L2200,1041.5" stroke="#0072BD" stroke-width="7" stroke-linejoin="round" stroke-linecap="butt"/>
<path d="M1882,1025.6 L1883.49,1025.59 L1884.98,1025.59 L1886.47,1025.58 L1887.95,1025.57 L1889.44,1025.57 L1890.93,1025.56 L1892.42,1025.55 L1893.91,1025.55 L1895.4,1025.54 L1896.88,1025.53 L1898.37,1025.53 L1899.86,1025.52 L1901.35,1025.52 L1902.84,1025.51 L1904.33,1025.5 L1905.81,1025.5 L1907.3,1025.49 L1908.79,1025.49 L1910.28,1025.48 L1911.77,1025.48 L1913.26,1025.47 L1914.74,1025.46 L1916.23,1025.46 L1917.72,1025.45 L1919.21,1025.45 L1920.7,1025.44 L1922.19,1025.44 L1923.67,1025.43 L1925.16,1025.43 L1926.65,1025.42 L1928.14,1025.41 L1929.63,1025.41 L1931.12,1025.4 L1932.6,1025.4 L1934.09,1025.39 L1935.58,1025.39 L1937.07,1025.38 L1938.56,1025.38 L1940.05,1025.37 L1941.53,1025.36 L1943.02,1025.36 L1944.51,1025.35 L1946,1025.35 L1947.49,1025.34 L1948.98,1025.33 L1950.47,1025.33 L1951.95,1025.32 L1953.44,1025.32 L1954.93,1025.31 L1956.42,1025.3 L1957.91,1025.3 L1959.4,1025.29 L1960.88,1025.28 L1962.37,1025.28 L1963.86,1025.27 L1965.35,1025.26 L1966.84,1025.26 L1968.33,1025.25 L1969.81,1025.24 L1971.3,1025.24 L1972.79,1025.23 L1974.28,1025.22 L1975.77,1025.21 L1977.26,1025.21 L1978.74,1025.2 L1980.23,1025.19 L1981.72,1025.18 L1983.21,1025.17 L1984.7,1025.17 L1986.19,1025.16 L1987.67,1025.15 L1989.16,1025.14 L1990.65,1025.13 L1992.14,1025.12 L1993.63,1025.11 L1995.12,1025.1 L1996.6,1025.09 L1998.09,1025.08 L1999.58,1025.07 L2001.07,1025.06 L2002.56,1025.05 L2004.05,1025.04 L2005.53,1025.03 L2007.02,1025.02 L2008.51,1025.01 L2010,1025 L2011.5,1024.99 L2013,1024.98 L2014.5,1024.96 L2016,1024.95 L2017.5,1024.93 L2019,1024.92 L2020.5,1024.9 L2022,1024.88 L2023.5,1024.86 L2025,1024.84 L2026.5,1024.82 L2028,1024.8 L2029.5,1024.78 L2031,1024.76 L2032.5,1024.73 L2034,1024.71 L2035.5,1024.69 L2037,1024.66 L2038.5,1024.64 L2040,1024.61 L2041.5,1024.58 L2043,1024.56 L2044.5,1024.53 L2046,1024.5 L2047.5,1024.48 L2049,1024.45 L2050.5,1024.42 L2052,1024.39 L2053.5,1024.36 L2055,1024.33 L2056.5,1024.31 L2058,1024.28 L2059.5,1024.25 L2061,1024.22 L2062.5,1024.19 L2064,1024.16 L2065.5,1024.13 L2067,1024.1 L2068.5,1024.07 L2070,1024.04 L2071.5,1024.01 L2073,1023.98 L2074.5,1023.95 L2076,1023.92 L2077.5,1023.89 L2079,1023.86 L2080.5,1023.84 L2082,1023.81 L2083.5,1023.78 L2085,1023.75 L2086.5,1023.73 L2088,1023.7 L2089.5,1023.67 L2091,1023.65 L2092.5,1023.62 L2094,1023.6 L2095.5,1023.57 L2097,1023.55 L2098.5,1023.52 L2100,1023.5 L2101.47,1023.48 L2102.94,1023.45 L2104.41,1023.43 L2105.88,1023.41 L2107.35,1023.38 L2108.82,1023.36 L2110.29,1023.34 L2111.76,1023.31 L2113.24,1023.29 L2114.71,1023.26 L2116.18,1023.24 L2117.65,1023.21 L2119.12,1023.19 L2120.59,1023.17 L2122.06,1023.14 L2123.53,1023.12 L2125,1023.09 L2126.47,1023.07 L2127.94,1023.05 L2129.41,1023.03 L2130.88,1023.01 L2132.35,1022.99 L2133.82,1022.97 L2135.29,1022.95 L2136.76,1022.93 L2138.24,1022.91 L2139.71,1022.89 L2141.18,1022.88 L2142.65,1022.86 L2144.12,1022.85 L2145.59,1022.83 L2147.06,1022.82 L2148.53,1022.81 L2150,1022.8 L2151.47,1022.79 L2152.94,1022.78 L2154.41,1022.77 L2155.88,1022.77 L2157.35,1022.76 L2158.82,1022.75 L2160.29,1022.74 L2161.76,1022.74 L2163.24,1022.73 L2164.71,1022.72 L2166.18,1022.72 L2167.65,1022.71 L2169.12,1022.71 L2170.59,1022.7 L2172.06,1022.7 L2173.53,1022.69 L2175,1022.69 L2176.47,1022.68 L2177.94,1022.68 L2179.41,1022.67 L2180.88,1022.67 L2182.35,1022.66 L2183.82,1022.66 L2185.29,1022.65 L2186.76,1022.65 L2188.24,1022.64 L2189.71,1022.64 L2191.18,1022.63 L2192.65,1022.63 L2194.12,1022.62 L2195.59,1022.62 L2197.06,1022.61 L2198.53,1022.61 L2200,1022.6" stroke="#D95319" stroke-width="7" stroke-linejoin="round" stroke-linecap="butt"/>
<path d="M1882,1024.8 L1894.5,1024.8 L1895.5,1023.5 L2184.5,1023.5 L2185.5,1024.1 L2200,1024.1" stroke="#A2142F" stroke-width="7" stroke-linejoin="round" stroke-linecap="butt"/>
<path d="M1882,996.5 L1984.5,996.5 L1985.5,995.4 L2079.5,995.4 L2080.5,994.5 L2111.5,994.5 L2112.5,993.6 L2179.5,993.6 L2180.5,992.4 L2200,992.4" stroke="#7E2F8E" stroke-width="7" stroke-linejoin="round" stroke-linecap="butt"/>
</g>
<text fill="#0e0e0e"><tspan x="1862.69" y="1142.7" font-size="17.17" textLength="39.02" lengthAdjust="spacingAndGlyphs" font-weight="bold" stroke="#0e0e0e" stroke-width="0.3" stroke-linejoin="round">267.6</tspan></text>
<text fill="#0e0e0e"><tspan x="1921.96" y="1142.7" font-size="17.17" textLength="47.69" lengthAdjust="spacingAndGlyphs" font-weight="bold" stroke="#0e0e0e" stroke-width="0.3" stroke-linejoin="round">267.62</tspan></text>
<text fill="#0e0e0e"><tspan x="1985.56" y="1142.7" font-size="17.17" textLength="47.69" lengthAdjust="spacingAndGlyphs" font-weight="bold" stroke="#0e0e0e" stroke-width="0.3" stroke-linejoin="round">267.64</tspan></text>
<text fill="#0e0e0e"><tspan x="2049.16" y="1142.7" font-size="17.17" textLength="47.69" lengthAdjust="spacingAndGlyphs" font-weight="bold" stroke="#0e0e0e" stroke-width="0.3" stroke-linejoin="round">267.66</tspan></text>
<text fill="#0e0e0e"><tspan x="2112.76" y="1142.7" font-size="17.17" textLength="47.69" lengthAdjust="spacingAndGlyphs" font-weight="bold" stroke="#0e0e0e" stroke-width="0.3" stroke-linejoin="round">267.68</tspan></text>
<text fill="#0e0e0e"><tspan x="2180.69" y="1142.7" font-size="17.17" textLength="39.02" lengthAdjust="spacingAndGlyphs" font-weight="bold" stroke="#0e0e0e" stroke-width="0.3" stroke-linejoin="round">267.7</tspan></text>
<text fill="#0e0e0e"><tspan x="1869.83" y="958.5" font-size="17.17" textLength="8.67" lengthAdjust="spacingAndGlyphs" font-weight="bold" stroke="#0e0e0e" stroke-width="0.3" stroke-linejoin="round">8</tspan></text>
<text fill="#0e0e0e"><tspan x="1869.83" y="1015.17" font-size="17.17" textLength="8.67" lengthAdjust="spacingAndGlyphs" font-weight="bold" stroke="#0e0e0e" stroke-width="0.3" stroke-linejoin="round">7</tspan></text>
<text fill="#0e0e0e"><tspan x="1869.83" y="1071.83" font-size="17.17" textLength="8.67" lengthAdjust="spacingAndGlyphs" font-weight="bold" stroke="#0e0e0e" stroke-width="0.3" stroke-linejoin="round">6</tspan></text>
<text fill="#0e0e0e"><tspan x="1869.83" y="1128.5" font-size="17.17" textLength="8.67" lengthAdjust="spacingAndGlyphs" font-weight="bold" stroke="#0e0e0e" stroke-width="0.3" stroke-linejoin="round">5</tspan></text>
<text fill="#0e0e0e"><tspan x="1882.64" y="950.11" font-size="19.8906" textLength="11.51" lengthAdjust="spacingAndGlyphs" stroke="#0e0e0e" stroke-width="0.7" stroke-linejoin="round">×</tspan><tspan x="1895.2" y="948.7" font-size="17.34" textLength="17" lengthAdjust="spacingAndGlyphs" font-weight="bold" stroke="#0e0e0e" stroke-width="0.3" stroke-linejoin="round">10</tspan><tspan x="1912.09" y="946.5" font-size="22.9147" textLength="9.81" lengthAdjust="spacingAndGlyphs" font-weight="bold">−</tspan><tspan x="1920.8" y="942.3" font-size="13.608" textLength="6.3" lengthAdjust="spacingAndGlyphs" font-weight="bold" stroke="#0e0e0e" stroke-width="0.4" stroke-linejoin="round">3</tspan></text>
</svg></body></html>
